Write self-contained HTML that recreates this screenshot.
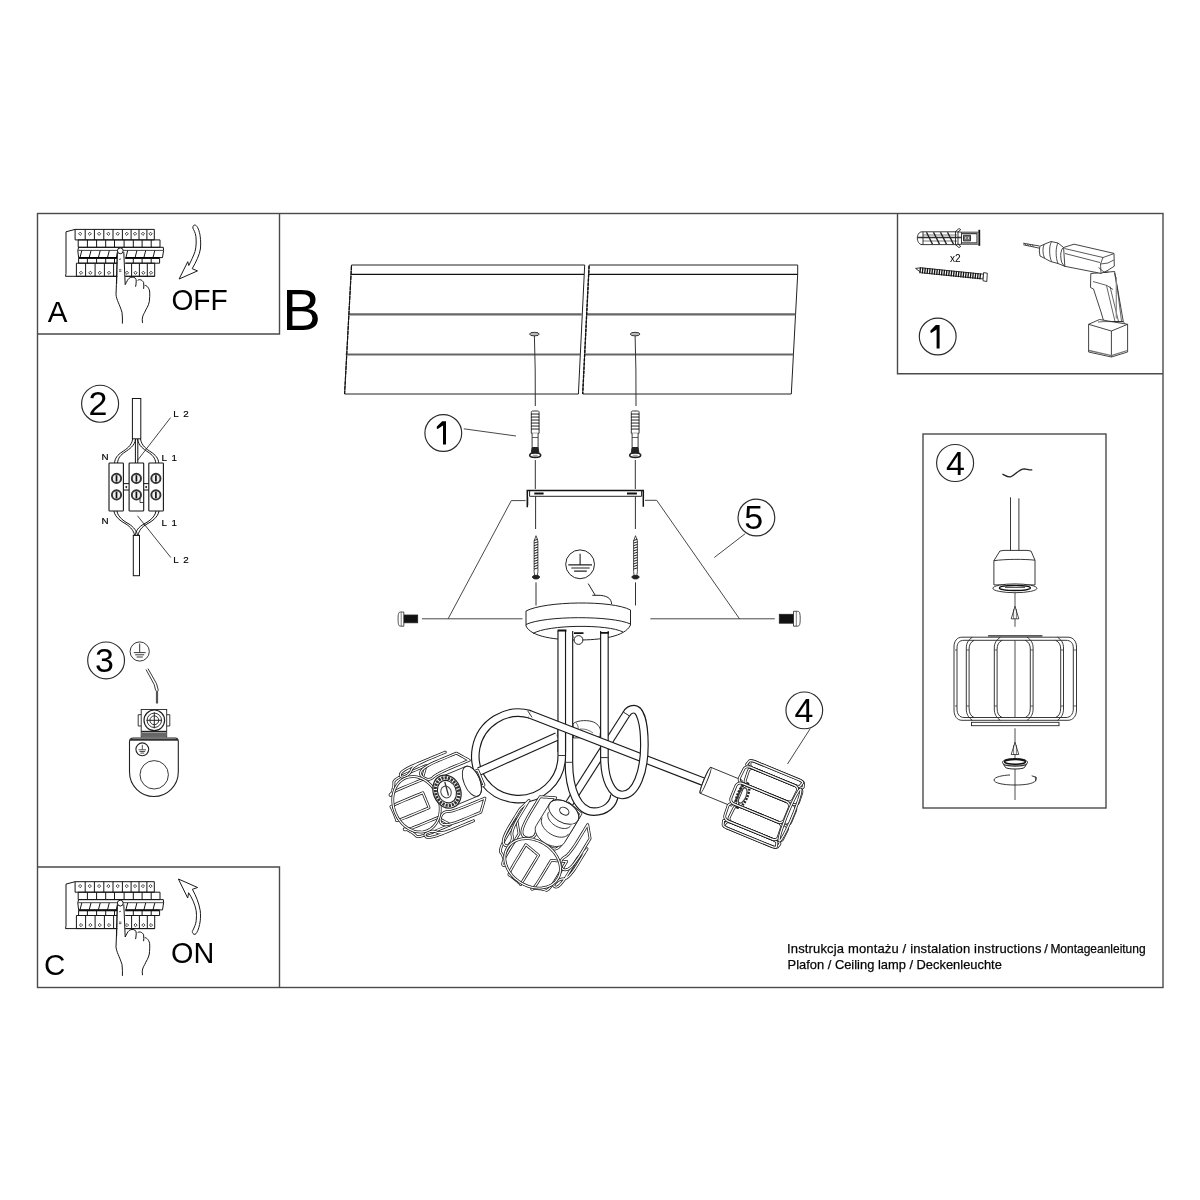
<!DOCTYPE html>
<html><head><meta charset="utf-8">
<style>
html,body{margin:0;padding:0;background:#fff;}
body{width:1200px;height:1200px;overflow:hidden;}
svg{display:block;}
text{font-family:"Liberation Sans",sans-serif;fill:#000;} svg{will-change:transform;}
</style></head><body>
<svg width="1200" height="1200" viewBox="0 0 1200 1200">
<rect width="1200" height="1200" fill="#fff"/>
<g fill="none" stroke="#4a4a4a" stroke-width="1.4">
<rect x="37.5" y="213.5" width="1125.5" height="774"/>
<path d="M279.5 213.5V334H37.5"/>
<path d="M37.5 867H279.5V987.5"/>
<path d="M897.5 213.5V373.7H1163"/>
<rect x="923" y="434" width="183" height="374"/>
</g>
<g id="panelA"><g fill="none" stroke="#151515" stroke-width="1">
<path d="M75.1 229.4L66 231.8V273.5L65.5 276.3H154.7"/>
<path d="M75.1 229.4H154.3V239.9H75.1Z"/>
<path d="M85.2 229.4V239.9"/>
<path d="M94.4 229.4V239.9"/>
<path d="M103.8 229.4V239.9"/>
<path d="M113 229.4V239.9"/>
<path d="M122.4 229.4V239.9"/>
<path d="M131.1 229.4V239.9"/>
<path d="M139 229.4V239.9"/>
<path d="M146.9 229.4V239.9"/>
<path d="M80.15 232.2l1.6 1.6l-1.6 1.6l-1.6-1.6z" stroke-width="0.8"/>
<path d="M89.8 232.2l1.6 1.6l-1.6 1.6l-1.6-1.6z" stroke-width="0.8"/>
<path d="M99.1 232.2l1.6 1.6l-1.6 1.6l-1.6-1.6z" stroke-width="0.8"/>
<path d="M108.4 232.2l1.6 1.6l-1.6 1.6l-1.6-1.6z" stroke-width="0.8"/>
<path d="M117.7 232.2l1.6 1.6l-1.6 1.6l-1.6-1.6z" stroke-width="0.8"/>
<path d="M126.75 232.2l1.6 1.6l-1.6 1.6l-1.6-1.6z" stroke-width="0.8"/>
<path d="M135.05 232.2l1.6 1.6l-1.6 1.6l-1.6-1.6z" stroke-width="0.8"/>
<path d="M142.95 232.2l1.6 1.6l-1.6 1.6l-1.6-1.6z" stroke-width="0.8"/>
<path d="M150.6 232.2l1.6 1.6l-1.6 1.6l-1.6-1.6z" stroke-width="0.8"/>
<path d="M78.2 239.9H160V247.3H78.2Z"/>
<path d="M87.4 239.9V247.3"/>
<path d="M96.6 239.9V247.3"/>
<path d="M105.7 239.9V247.3"/>
<path d="M114.5 239.9V247.3"/>
<path d="M124.1 239.9V247.3"/>
<path d="M133.3 239.9V247.3"/>
<path d="M142.1 239.9V247.3"/>
<path d="M151.2 239.9V247.3"/>
<path d="M78.6 247.3H163.3L163.6 250.5L162.5 257.6H78.6L77.8 250.5Z"/>
<path d="M78.2 250.4H163.5" stroke-width="0.8"/>
<path d="M81.8 250.6L80 257.5"/>
<path d="M91 250.6L89.2 257.5"/>
<path d="M100.2 250.6L98.4 257.5"/>
<path d="M109.3 250.6L107.5 257.5"/>
<path d="M118.1 250.6L116.3 257.5"/>
<path d="M127.7 250.6L125.9 257.5"/>
<path d="M136.9 250.6L135.1 257.5"/>
<path d="M145.7 250.6L143.9 257.5"/>
<path d="M154.8 250.6L153 257.5"/>
<path d="M78.6 257.9H159.6" stroke-width="1.6" stroke="#000"/>
<path d="M78.6 258.5H159.6V263.2H78.6Z"/>
<path d="M87.4 258.5V263.2"/>
<path d="M96.6 258.5V263.2"/>
<path d="M105.7 258.5V263.2"/>
<path d="M114.5 258.5V263.2"/>
<path d="M124.1 258.5V263.2"/>
<path d="M133.3 258.5V263.2"/>
<path d="M142.1 258.5V263.2"/>
<path d="M151.2 258.5V263.2"/>
<path d="M76.4 263.2H154.7V276.3H76.4Z"/>
<path d="M85.6 263.2V276.3"/>
<path d="M95.1 263.2V276.3"/>
<path d="M104.4 263.2V276.3"/>
<path d="M113.6 263.2V276.3"/>
<path d="M122.4 263.2V276.3"/>
<path d="M131.6 263.2V276.3"/>
<path d="M139.4 263.2V276.3"/>
<path d="M147.3 263.2V276.3"/>
<path d="M81 271.2l1.6 1.6l-1.6 1.6l-1.6-1.6z" stroke-width="0.8"/>
<path d="M90.35 271.2l1.6 1.6l-1.6 1.6l-1.6-1.6z" stroke-width="0.8"/>
<path d="M99.75 271.2l1.6 1.6l-1.6 1.6l-1.6-1.6z" stroke-width="0.8"/>
<path d="M109 271.2l1.6 1.6l-1.6 1.6l-1.6-1.6z" stroke-width="0.8"/>
<path d="M118 271.2l1.6 1.6l-1.6 1.6l-1.6-1.6z" stroke-width="0.8"/>
<path d="M127 271.2l1.6 1.6l-1.6 1.6l-1.6-1.6z" stroke-width="0.8"/>
<path d="M135.5 271.2l1.6 1.6l-1.6 1.6l-1.6-1.6z" stroke-width="0.8"/>
<path d="M143.35 271.2l1.6 1.6l-1.6 1.6l-1.6-1.6z" stroke-width="0.8"/>
<path d="M151 271.2l1.6 1.6l-1.6 1.6l-1.6-1.6z" stroke-width="0.8"/>
</g>
<g fill="#fff" stroke="#151515" stroke-width="1">
<path d="M117.4 252.1L116.4 284.7L116 294.6C116.5 300 119.5 304 122 312.3C122.6 316 122.4 320 122.4 323.6" fill="none"/>
<path d="M117.4 252.1V284.7H125.2V252.1Z" stroke="none"/>
<path d="M117.4 252.1L116.6 284" fill="none"/>
<path d="M123.8 252.1L125.2 284.7C126.5 282 128 279 129.1 278.3C130.5 277 133.5 276.5 135.5 278.3C136.5 279.5 136.4 282 135.6 286.8" fill="none"/>
<path d="M137.6 280.4C139 279.2 142 279.3 143.6 282.5C144 285 143.8 287 143.6 288.9" fill="none"/>
<path d="M144.7 285.4C146 285.3 148.5 286.5 149.6 291C150 295 149.6 298 149.3 301.7C148.5 306 146 309 144.7 312.3C143 315 141.6 318 142.5 322.9" fill="none"/>
<circle cx="120.3" cy="250.8" r="2.9" fill="#fff"/>
<path d="M119 259.5l2 -0.6M119 269.8h2.4M119 271.3h2.4" fill="none" stroke-width="0.7"/>
</g></g>
<path d="M192.9 228.1C192.5 225.5 194.5 224.6 195.5 225.2C197.5 226 199.5 231 200.2 236.3C200.8 241 200.8 245 200.4 249C199.5 255 196 262 192.2 268.7L197.5 270.9L179.1 279L187.75 261.7L188.8 265.5C191 261 193.5 256 195 251.5C196.3 247 196.4 241 195.9 236.3C195.3 232 193.5 230 192.9 228.1Z" fill="#fff" stroke="#1a1a1a" stroke-width="1"/>
<g transform="translate(0 652.3)"><g fill="none" stroke="#151515" stroke-width="1">
<path d="M75.1 229.4L66 231.8V273.5L65.5 276.3H154.7"/>
<path d="M75.1 229.4H154.3V239.9H75.1Z"/>
<path d="M85.2 229.4V239.9"/>
<path d="M94.4 229.4V239.9"/>
<path d="M103.8 229.4V239.9"/>
<path d="M113 229.4V239.9"/>
<path d="M122.4 229.4V239.9"/>
<path d="M131.1 229.4V239.9"/>
<path d="M139 229.4V239.9"/>
<path d="M146.9 229.4V239.9"/>
<path d="M80.15 232.2l1.6 1.6l-1.6 1.6l-1.6-1.6z" stroke-width="0.8"/>
<path d="M89.8 232.2l1.6 1.6l-1.6 1.6l-1.6-1.6z" stroke-width="0.8"/>
<path d="M99.1 232.2l1.6 1.6l-1.6 1.6l-1.6-1.6z" stroke-width="0.8"/>
<path d="M108.4 232.2l1.6 1.6l-1.6 1.6l-1.6-1.6z" stroke-width="0.8"/>
<path d="M117.7 232.2l1.6 1.6l-1.6 1.6l-1.6-1.6z" stroke-width="0.8"/>
<path d="M126.75 232.2l1.6 1.6l-1.6 1.6l-1.6-1.6z" stroke-width="0.8"/>
<path d="M135.05 232.2l1.6 1.6l-1.6 1.6l-1.6-1.6z" stroke-width="0.8"/>
<path d="M142.95 232.2l1.6 1.6l-1.6 1.6l-1.6-1.6z" stroke-width="0.8"/>
<path d="M150.6 232.2l1.6 1.6l-1.6 1.6l-1.6-1.6z" stroke-width="0.8"/>
<path d="M78.2 239.9H160V247.3H78.2Z"/>
<path d="M87.4 239.9V247.3"/>
<path d="M96.6 239.9V247.3"/>
<path d="M105.7 239.9V247.3"/>
<path d="M114.5 239.9V247.3"/>
<path d="M124.1 239.9V247.3"/>
<path d="M133.3 239.9V247.3"/>
<path d="M142.1 239.9V247.3"/>
<path d="M151.2 239.9V247.3"/>
<path d="M78.6 247.3H163.3L163.6 250.5L162.5 257.6H78.6L77.8 250.5Z"/>
<path d="M78.2 250.4H163.5" stroke-width="0.8"/>
<path d="M81.8 250.6L80 257.5"/>
<path d="M91 250.6L89.2 257.5"/>
<path d="M100.2 250.6L98.4 257.5"/>
<path d="M109.3 250.6L107.5 257.5"/>
<path d="M118.1 250.6L116.3 257.5"/>
<path d="M127.7 250.6L125.9 257.5"/>
<path d="M136.9 250.6L135.1 257.5"/>
<path d="M145.7 250.6L143.9 257.5"/>
<path d="M154.8 250.6L153 257.5"/>
<path d="M78.6 257.9H159.6" stroke-width="1.6" stroke="#000"/>
<path d="M78.6 258.5H159.6V263.2H78.6Z"/>
<path d="M87.4 258.5V263.2"/>
<path d="M96.6 258.5V263.2"/>
<path d="M105.7 258.5V263.2"/>
<path d="M114.5 258.5V263.2"/>
<path d="M124.1 258.5V263.2"/>
<path d="M133.3 258.5V263.2"/>
<path d="M142.1 258.5V263.2"/>
<path d="M151.2 258.5V263.2"/>
<path d="M76.4 263.2H154.7V276.3H76.4Z"/>
<path d="M85.6 263.2V276.3"/>
<path d="M95.1 263.2V276.3"/>
<path d="M104.4 263.2V276.3"/>
<path d="M113.6 263.2V276.3"/>
<path d="M122.4 263.2V276.3"/>
<path d="M131.6 263.2V276.3"/>
<path d="M139.4 263.2V276.3"/>
<path d="M147.3 263.2V276.3"/>
<path d="M81 271.2l1.6 1.6l-1.6 1.6l-1.6-1.6z" stroke-width="0.8"/>
<path d="M90.35 271.2l1.6 1.6l-1.6 1.6l-1.6-1.6z" stroke-width="0.8"/>
<path d="M99.75 271.2l1.6 1.6l-1.6 1.6l-1.6-1.6z" stroke-width="0.8"/>
<path d="M109 271.2l1.6 1.6l-1.6 1.6l-1.6-1.6z" stroke-width="0.8"/>
<path d="M118 271.2l1.6 1.6l-1.6 1.6l-1.6-1.6z" stroke-width="0.8"/>
<path d="M127 271.2l1.6 1.6l-1.6 1.6l-1.6-1.6z" stroke-width="0.8"/>
<path d="M135.5 271.2l1.6 1.6l-1.6 1.6l-1.6-1.6z" stroke-width="0.8"/>
<path d="M143.35 271.2l1.6 1.6l-1.6 1.6l-1.6-1.6z" stroke-width="0.8"/>
<path d="M151 271.2l1.6 1.6l-1.6 1.6l-1.6-1.6z" stroke-width="0.8"/>
</g>
<g fill="#fff" stroke="#151515" stroke-width="1">
<path d="M117.4 252.1L116.4 284.7L116 294.6C116.5 300 119.5 304 122 312.3C122.6 316 122.4 320 122.4 323.6" fill="none"/>
<path d="M117.4 252.1V284.7H125.2V252.1Z" stroke="none"/>
<path d="M117.4 252.1L116.6 284" fill="none"/>
<path d="M123.8 252.1L125.2 284.7C126.5 282 128 279 129.1 278.3C130.5 277 133.5 276.5 135.5 278.3C136.5 279.5 136.4 282 135.6 286.8" fill="none"/>
<path d="M137.6 280.4C139 279.2 142 279.3 143.6 282.5C144 285 143.8 287 143.6 288.9" fill="none"/>
<path d="M144.7 285.4C146 285.3 148.5 286.5 149.6 291C150 295 149.6 298 149.3 301.7C148.5 306 146 309 144.7 312.3C143 315 141.6 318 142.5 322.9" fill="none"/>
<circle cx="120.3" cy="250.8" r="2.9" fill="#fff"/>
<path d="M119 259.5l2 -0.6M119 269.8h2.4M119 271.3h2.4" fill="none" stroke-width="0.7"/>
</g></g>
<path d="M178.4 879L197.6 887.5L192.4 889.3C196 896 199 903 200.25 910.8C200.6 914 200.6 918 200.25 920.8C199.5 926 198.3 930 196.8 932.5C196 934.5 194 935 193 933.5C192 932 192.2 931.5 192.7 930.7C194.5 927 195.8 924 196.2 920.8C196.6 917 196.6 914 196.2 910.8C195 904 192 898 188.6 892.75L187.7 898Z" fill="#fff" stroke="#1a1a1a" stroke-width="1"/>
<text x="47.8" y="321.8" font-size="29.5">A</text>
<text transform="translate(171.4 309.7) scale(0.94 1)" font-size="30">OFF</text>
<text x="44" y="975.2" font-size="29.5">C</text>
<text transform="translate(171 962.6) scale(0.977 1)" font-size="29.5">ON</text>
<text x="282.3" y="330.4" font-size="58">B</text>
<g fill="none" stroke="#2a2a2a" stroke-width="1.15">
<circle cx="100.1" cy="403.7" r="18.5"/>
<circle cx="106.1" cy="660.4" r="18.4"/>
<circle cx="937.7" cy="336.5" r="18.4"/>
<circle cx="955.1" cy="463" r="18.5"/>
<circle cx="443.3" cy="433" r="18.4"/>
<circle cx="756.4" cy="517.5" r="18.4"/>
<circle cx="804.3" cy="710.35" r="18.35"/>
</g>
<g font-size="34">
<text x="88.6" y="414.8">2</text>
<text x="94.9" y="672.3">3</text>

<text x="946" y="474.9">4</text>

<text x="744.2" y="529.3">5</text>
<text x="794.5" y="722.4">4</text>
</g>
<g font-size="13" fill="#111" stroke="#111" stroke-width="0.25">
<text x="787" y="953" textLength="254.5" lengthAdjust="spacing">Instrukcja montażu / instalation instructions</text>
<text x="1044.2" y="953">/</text>
<text x="1050.4" y="953" textLength="95.2" lengthAdjust="spacingAndGlyphs">Montageanleitung</text>
<text x="787.6" y="969" font-size="12.9">Plafon / Ceiling lamp / Deckenleuchte</text>
</g>
<path d="M939.6 325V348.5H936.6V329.4L931.2 332.9L930.3 332.2L930.5 330.4L935.8 325Z" fill="#000"/>
<path d="M446 421.2V444.5H443V425.6L437.6 429.1L436.7 428.4L436.9 426.6L442.2 421.2Z" fill="#000"/>
<g fill="none" stroke="#151515" stroke-width="1">
<rect x="132.4" y="398.5" width="8.4" height="40.3"/>
<rect x="133.3" y="535.4" width="6.2" height="40.3"/>
<path d="M132.7 439C131.5 446 126.5 449 122 452C117.5 455 115 458 114.5 463"/>
<path d="M137.5 439C138.7 446 143.5 449 148 452C152.5 455 155.3 458 155.7 463"/>
<path d="M135.4 439V463"/>
<path d="M135.7 439C134.5 446 129.5 449 125 452C120.5 455 118 458 117.5 463"/>
<path d="M140.5 439C141.7 446 146.5 449 151 452C155.5 455 158.3 458 158.7 463"/>
<path d="M137.8 439V463"/>
<path d="M113.9 511C115 517 120.5 521 126 524C130.5 527 134 531 134.5 535.4"/>
<path d="M156 511C155 517 149.5 521 144 524C138.5 527 135.7 531 135.1 535.4"/>
<path d="M116.9 511C118 517 123.5 521 129 524C133.5 527 137 531 137.5 535.4"/>
<path d="M159 511C158 517 152.5 521 147 524C141.5 527 138.7 531 138.1 535.4"/>
<rect x="109" y="463" width="14.4" height="48" rx="0.8" fill="#fff" stroke-width="1.1"/>
<rect x="129.1" y="463" width="14.6" height="48" rx="0.8" fill="#fff" stroke-width="1.1"/>
<rect x="148.8" y="463" width="14.6" height="48" rx="0.8" fill="#fff" stroke-width="1.1"/>
<path d="M123.4 483.6H129.1M123.4 490H129.1M143.7 483.6H148.8M143.7 490H148.8"/>
<circle cx="126.3" cy="487" r="0.6" fill="#222"/><circle cx="146.2" cy="487" r="0.6" fill="#222"/>
<circle cx="116.5" cy="478.4" r="4.6" stroke-width="1.9" stroke="#333" fill="#eee"/>
<path d="M116.5 475.2V481.6" stroke-width="1.7" stroke="#111"/>
<circle cx="116.5" cy="494.9" r="4.6" stroke-width="1.9" stroke="#333" fill="#eee"/>
<path d="M116.5 491.7V498.1" stroke-width="1.7" stroke="#111"/>
<circle cx="136.4" cy="478.4" r="4.6" stroke-width="1.9" stroke="#333" fill="#eee"/>
<path d="M136.4 475.2V481.6" stroke-width="1.7" stroke="#111"/>
<circle cx="136.4" cy="494.9" r="4.6" stroke-width="1.9" stroke="#333" fill="#eee"/>
<path d="M136.4 491.7V498.1" stroke-width="1.7" stroke="#111"/>
<circle cx="155.9" cy="478.4" r="4.6" stroke-width="1.9" stroke="#333" fill="#eee"/>
<path d="M155.9 475.2V481.6" stroke-width="1.7" stroke="#111"/>
<circle cx="155.9" cy="494.9" r="4.6" stroke-width="1.9" stroke="#333" fill="#eee"/>
<path d="M155.9 491.7V498.1" stroke-width="1.7" stroke="#111"/>
<path d="M140 497.5V502.5H143.5" stroke-width="0.8"/>
<path d="M170.6 417.6L137.4 460.5M137.5 515.8L170.8 557.5" stroke-width="0.8"/>
</g>
<g font-size="9.8" fill="#111" stroke="#111" stroke-width="0.2" letter-spacing="1.1">
<text x="101.6" y="460">N</text><text x="101.6" y="524">N</text>
<text x="161.5" y="461">L 1</text><text x="161.5" y="525.7">L 1</text>
<text x="173.2" y="416.6">L 2</text><text x="173.2" y="562.5">L 2</text>
</g>
<g fill="none" stroke="#222" stroke-width="0.9">
<circle cx="139.7" cy="651.5" r="9.6"/>
<path d="M139.7 643.5V652.5M133.8 652.6H145.6M135.2 654.8H144.2M136.6 657H142.8"/>
<path d="M146 669.5L154.2 684.5L155.7 690.6M148 668.6L156.6 683.8L158.4 690.6"/>
<path d="M157 690.6V703.5" stroke-width="2.2" stroke="#555"/>
<path d="M129.5 742C129.5 739.5 131 738 133.5 738H175C177 738 178.3 739.5 178.3 741.5V772C178.3 785.5 167.3 796.5 153.9 796.5C140.5 796.5 129.5 785.5 129.5 772Z" stroke-width="1.1"/>
<path d="M129.8 739.7H178" stroke-width="2" stroke="#333"/>
<circle cx="154.2" cy="774.8" r="14.2"/>
<circle cx="142.3" cy="749.3" r="6.4" stroke-width="1.1"/>
<path d="M142.3 744.8V749.6M138.6 749.8H146M139.5 751.5H145.1M140.4 753.1H144.2" stroke-width="0.8"/>
<rect x="141.2" y="709.5" width="25.5" height="27.3" fill="#fff"/>
<path d="M141.2 714.7H138.2V726H141.2M166.7 714.7H169.8V726H166.7"/>
<path d="M141.3 731.5H166.6" stroke-width="1.4"/><rect x="141.3" y="732.5" width="25.3" height="4" fill="#666" stroke="none"/>
<circle cx="154.3" cy="720.3" r="10.3" stroke-width="1.2"/>
<circle cx="154.3" cy="720.3" r="7.2"/>
<circle cx="154.3" cy="720.3" r="4.4"/>
<path d="M154.3 712.3V728.3M146.5 720.3H162.1" stroke-width="1"/>
</g>
<g fill="none" stroke="#222" stroke-width="0.9">
<path d="M979.3 229.8V245.8" stroke-width="1.8" stroke="#111"/>
<path d="M978.5 232.2H961.5V244.2H978.5"/>
<path d="M961.5 233.6H977V242.8H961.5" stroke-width="1.2" stroke="#444"/>
<path d="M963.5 235.3H970.5V240.9H963.5Z" fill="#888" stroke-width="0.9"/>
<path d="M965 236.6h1.6v2.8h-1.6zM967.6 236.6h1.6v2.8h-1.6z" fill="#fff" stroke-width="0.5"/>
<path d="M961.5 232.2L957.5 231.8H922C919 231.8 917.3 235 917.3 238C917.3 241 919 244.6 922 244.6H957.5L961.5 244.2"/>
<path d="M917.5 237.5H961.5" stroke-width="1.3" stroke="#333"/>
<path d="M923 235H957M923 241H957" stroke-width="0.8" stroke="#555"/>
<path d="M923 232V244.5M955.5 232V244.5M958 232V244.5" stroke-width="0.9"/>
<path d="M926.5 232.3L932.5 244.3" stroke-width="1.4" stroke="#222"/>
<path d="M933.5 232.3L939.5 244.3" stroke-width="1.4" stroke="#222"/>
<path d="M940.5 232.3L946.5 244.3" stroke-width="1.4" stroke="#222"/>
<path d="M947.5 232.3L953.5 244.3" stroke-width="1.4" stroke="#222"/>
<path d="M955 232L959 228.5L960.8 229.6L957.5 232.4M955 244.3L959 247.6L960.8 246.4L957.5 243.7" stroke-width="0.9"/>
</g><text x="950" y="262.4" font-size="10" fill="#222">x2</text><g fill="none" stroke="#222" stroke-width="0.9">
<path d="M915.6 268.4L921 267.8L983.6 274.2L983 278.9L921.5 272.8Z" fill="#fff"/>
<path d="M983.6 272.6L987.3 273.2L986.8 281.5L983 280.8Z" fill="#fff"/>
<path d="M920.5 267.4L919.9 273.2" stroke-width="1.3" stroke="#111"/>
<path d="M922.9 267.64L922.3 273.44" stroke-width="1.3" stroke="#111"/>
<path d="M925.3 267.89L924.7 273.69" stroke-width="1.3" stroke="#111"/>
<path d="M927.7 268.13L927.1 273.93" stroke-width="1.3" stroke="#111"/>
<path d="M930.1 268.38L929.5 274.18" stroke-width="1.3" stroke="#111"/>
<path d="M932.5 268.62L931.9 274.42" stroke-width="1.3" stroke="#111"/>
<path d="M934.9 268.87L934.3 274.67" stroke-width="1.3" stroke="#111"/>
<path d="M937.3 269.11L936.7 274.91" stroke-width="1.3" stroke="#111"/>
<path d="M939.7 269.36L939.1 275.16" stroke-width="1.3" stroke="#111"/>
<path d="M942.1 269.6L941.5 275.4" stroke-width="1.3" stroke="#111"/>
<path d="M944.5 269.85L943.9 275.65" stroke-width="1.3" stroke="#111"/>
<path d="M946.9 270.09L946.3 275.89" stroke-width="1.3" stroke="#111"/>
<path d="M949.3 270.34L948.7 276.14" stroke-width="1.3" stroke="#111"/>
<path d="M951.7 270.58L951.1 276.38" stroke-width="1.3" stroke="#111"/>
<path d="M954.1 270.83L953.5 276.63" stroke-width="1.3" stroke="#111"/>
<path d="M956.5 271.07L955.9 276.87" stroke-width="1.3" stroke="#111"/>
<path d="M958.9 271.32L958.3 277.12" stroke-width="1.3" stroke="#111"/>
<path d="M961.3 271.56L960.7 277.36" stroke-width="1.3" stroke="#111"/>
<path d="M963.7 271.81L963.1 277.61" stroke-width="1.3" stroke="#111"/>
<path d="M966.1 272.05L965.5 277.85" stroke-width="1.3" stroke="#111"/>
<path d="M968.5 272.3L967.9 278.1" stroke-width="1.3" stroke="#111"/>
<path d="M970.9 272.54L970.3 278.34" stroke-width="1.3" stroke="#111"/>
<path d="M973.3 272.79L972.7 278.59" stroke-width="1.3" stroke="#111"/>
<path d="M975.7 273.03L975.1 278.83" stroke-width="1.3" stroke="#111"/>
<path d="M978.1 273.28L977.5 279.08" stroke-width="1.3" stroke="#111"/>
<path d="M980.5 273.52L979.9 279.32" stroke-width="1.3" stroke="#111"/>
</g>
<g fill="#fff" stroke="#222" stroke-width="0.85" stroke-linejoin="round">
<path d="M1023.1 243.2L1039.5 246M1023.3 244.8L1039.5 248.2" fill="none"/>
<path d="M1024.5 243.6l1.8 1.5M1027 244l1.8 1.5M1029.5 244.5l1.8 1.5M1032 244.9l1.8 1.5" fill="none" stroke-width="0.7"/>
<path d="M1090.8 273.5L1090.5 287.5L1093.5 289L1101 312L1103.8 321.6L1123.3 321.6L1114.6 271.5Z"/>
<path d="M1093 281.5L1107 285.5L1113 289.5M1106.5 285.5L1115 321.5M1110 286.5L1118.5 321.5M1114.6 273L1117.6 290.5L1121.5 321" fill="none" stroke-width="0.7"/>
<path d="M1116.3 277V318.5" stroke="#888" stroke-width="1.2" fill="none"/>
<path d="M1063.6 247.5L1074 244.2L1114 253.4L1114.3 266.2L1107 270.8L1101 273.4L1064.8 266.3Z"/>
<path d="M1064.5 248.5L1103 257.5L1113.5 253.8M1065 253.5L1100 262.5M1103 257.5L1100.5 264L1101 273.4M1100.5 264L1108 263L1113.8 260M1098.5 267.5L1104.5 272.5L1108.5 272" fill="none" stroke-width="0.75"/>
<path d="M1063.6 247.5C1061.5 248.5 1060.5 253 1060.8 257C1061 261 1062 264.5 1064.8 266.3L1058 263.5L1050.5 261.5L1045 258.5L1040 256L1039.3 251L1039.8 246.3L1046 243.5L1051 241.5L1058 243Z"/>
<path d="M1044.2 244.3C1042.5 247 1042.5 254 1044.5 258M1051.5 241.8C1049 245 1049 256 1051.5 261.5M1058 243C1055.5 247 1055.5 258 1058 263.5" fill="none" stroke-width="0.8"/>
<path d="M1088.6 324.3L1099.5 319.5L1127.6 324.3V352L1111.4 357L1088.6 352Z"/>
<path d="M1088.6 324.3L1111.4 331L1127.6 324.3M1111.4 331V357" fill="none"/>
<path d="M1089 350.5L1111.4 355.6L1127.3 350.5" fill="none" stroke="#777" stroke-width="1.3"/>
<path d="M1098 322L1103.8 321.6L1123.3 321.6L1125 323.8" fill="none" stroke-width="0.7"/>
</g>
<g fill="none" stroke="#222" stroke-width="0.9">
<path d="M1002.4 474.2C1005 475 1007 477.5 1010.5 476.8C1015 476 1018 469 1024.5 468.8C1027 468.8 1028.5 470.2 1032.3 469.8" stroke-width="1.3"/>
<path d="M1010.5 497.3V551M1018.9 498.3V551"/>
<path d="M999.9 551L1004 550.4H1027L1031 551L1035 560.2V584.9H993.9V560.7Z" fill="#fff"/>
<path d="M993.9 560.7C1005 559 1025 559 1035 560.2"/>
<ellipse cx="1014.9" cy="588.3" rx="22" ry="4.4" fill="#fff"/>
<ellipse cx="1014.9" cy="588" rx="15.5" ry="2.5" stroke-width="1.3" stroke="#111"/>
<path d="M1005 587.5H1025" stroke-width="0.8" stroke="#333"/>
<path d="M1015 592.7V626.8M1015 728.3V800" stroke-width="0.8"/>
<path d="M1015 606.3L1011.2 618.8H1018.8Z M1015 742.3L1011.2 754.5H1018.8Z" fill="#fff" stroke-width="0.8"/>
<path d="M1013.6 609V618.6M1016.4 609V618.6M1013.6 745V754.3M1016.4 745V754.3" stroke-width="0.6"/>
<path d="M988.1 635.9H1042.4" stroke-width="1.3"/>
<rect x="971.5" y="722.3" width="87.5" height="3.4" fill="#fff"/>
<path d="M962 637.2H1068M964 640.3H1066M962 720.3H1068M964 717.5H1066"/>
<path d="M962 637.2C957 637.2 954 641 954 647V710C954 716 957 720.3 962 720.3"/>
<path d="M964 640.3C959.5 640.3 957 643 957 648V709C957 714 959.5 717.5 964 717.5"/>
<path d="M1068 637.2C1073 637.2 1076.5 641 1076.5 647V710C1076.5 716 1073 720.3 1068 720.3"/>
<path d="M1066 640.3C1070.5 640.3 1073.3 643 1073.3 648V709C1073.3 714 1070.5 717.5 1066 717.5"/>
<path d="M972.3 637.2C968.3 640 966.3 643 966.3 648V709C966.3 714 968.3 717.5 972.3 720.3"/>
<path d="M974.1 640.3C970.6 642 969.1 645 969.1 649V708C969.1 713 970.6 716 974.1 717.5"/>
<path d="M1000.3 637.2C996.3 640 994.3 643 994.3 648V709C994.3 714 996.3 717.5 1000.3 720.3"/>
<path d="M1002.1 640.3C998.6 642 997.1 645 997.1 649V708C997.1 713 998.6 716 1002.1 717.5"/>
<path d="M1057.5 637.2C1061.5 640 1063.5 643 1063.5 648V709C1063.5 714 1061.5 717.5 1057.5 720.3"/>
<path d="M1055.7 640.3C1059.2 642 1060.7 645 1060.7 649V708C1060.7 713 1059.2 716 1055.7 717.5"/>
<path d="M1027.1 637.2C1031.1 640 1033.1 643 1033.1 648V709C1033.1 714 1031.1 717.5 1027.1 720.3"/>
<path d="M1025.3 640.3C1028.8 642 1030.3 645 1030.3 649V708C1030.3 713 1028.8 716 1025.3 717.5"/>
<path d="M1015 640.5V717" stroke-width="0.8"/>
<path d="M955 650H957M955 706H957M966.5 650H969M966.5 706H969M994.5 650H997M994.5 706H997M1030.5 650H1033M1030.5 706H1033M1061 650H1063.5M1061 706H1063.5M1073.5 650H1076.3M1073.5 706H1076.3" stroke-width="0.7"/>
<path d="M1002.5 762.5C1002.5 760 1008 758.5 1015 758.5C1022 758.5 1027.5 760 1027.5 762.5L1024.5 767.5C1022 769.5 1008 769.5 1005.5 767.5Z" fill="#fff" stroke-width="1"/>
<ellipse cx="1015" cy="761.8" rx="10.5" ry="2.4" stroke-width="1.6" stroke="#111"/>
<path d="M1004 764.5C1008 766.5 1022 766.5 1026 764.5" stroke-width="1.3" stroke="#333"/>
<path d="M1035 777.5C1036 776 1036.5 778 1035.8 780.5C1033 784 1025 785 1015 785C1003 785 994 783 994 780C994 777 1003 775.2 1010 775" stroke-width="0.9"/>
<path d="M1031.7 775.8L1036 777.2L1035.5 781.3" stroke-width="0.9"/>
</g>
<g fill="none" stroke="#222" stroke-width="1">
<path d="M351.5 265H584.7L578.4 394H344.6Z"/>
<path d="M351 274.4H584" stroke-width="1.3" stroke="#111"/>
<path d="M348.4 314.4H581.8M345.7 354.5H580.2" stroke-width="2.2" stroke="#666"/>
<path d="M589.1 265H797.7V274.3L791.3 394H582.7Z"/>
<path d="M588.4 274.3H797.7" stroke-width="1.3" stroke="#111"/>
<path d="M586.3 314.4H795.6M584.4 354.5H793.5" stroke-width="2.2" stroke="#666"/>
<path d="M589.1 266L582.7 394" stroke-width="1.4" stroke="#111" stroke-dasharray="3 1.2"/>
<path d="M351.5 266L344.6 394" stroke-width="1.2" stroke="#111" stroke-dasharray="4 1"/>
<ellipse cx="534.4" cy="334.1" rx="4.8" ry="1.8" fill="#bbb" stroke="#222" stroke-width="0.9"/>
<path d="M534.4 335.8L535.2 370L535.3 406" stroke-width="1" stroke="#333"/>
<ellipse cx="635.1" cy="334.1" rx="4.8" ry="1.8" fill="#bbb" stroke="#222" stroke-width="0.9"/>
<path d="M635.1 335.8L635.9 370L636 406" stroke-width="1" stroke="#333"/>
</g>
<g fill="#fff" stroke="#222" stroke-width="0.9">
<path d="M531.3 412.5C531.3 411 532.2 411 533.2 411H537.2C538.2 411 539.1 411 539.1 412.5V433.3H531.3Z"/>
<path d="M531.3 414.2H539.1" stroke-width="1.6" stroke="#222"/>
<path d="M532 414.2H538.4" stroke-width="0.7" stroke="#fff"/>
<path d="M531.3 417.2H539.1" stroke-width="1.6" stroke="#222"/>
<path d="M532 417.2H538.4" stroke-width="0.7" stroke="#fff"/>
<path d="M531.3 420.2H539.1" stroke-width="1.6" stroke="#222"/>
<path d="M532 420.2H538.4" stroke-width="0.7" stroke="#fff"/>
<path d="M531.3 423.2H539.1" stroke-width="1.6" stroke="#222"/>
<path d="M532 423.2H538.4" stroke-width="0.7" stroke="#fff"/>
<path d="M531.3 426.2H539.1" stroke-width="1.6" stroke="#222"/>
<path d="M532 426.2H538.4" stroke-width="0.7" stroke="#fff"/>
<path d="M531.3 429.2H539.1" stroke-width="1.6" stroke="#222"/>
<path d="M532 429.2H538.4" stroke-width="0.7" stroke="#fff"/>
<path d="M532.1 433.3V447.5H538.1V433.3"/>
<path d="M532.1 437.5H538.1" stroke-width="0.7"/>
<path d="M532 447.5H538.2L539 453.5H531.2Z" fill="#222"/>
<ellipse cx="535.2" cy="455.2" rx="5.5" ry="2.2" fill="#fff" stroke-width="1.6"/>
<path d="M532.7 455.3H537.7" stroke-width="0.8" stroke="#777"/>
</g>
<g fill="#fff" stroke="#222" stroke-width="0.9">
<path d="M631.3 412.5C631.3 411 632.2 411 633.2 411H637.2C638.2 411 639.1 411 639.1 412.5V433.3H631.3Z"/>
<path d="M631.3 414.2H639.1" stroke-width="1.6" stroke="#222"/>
<path d="M632 414.2H638.4" stroke-width="0.7" stroke="#fff"/>
<path d="M631.3 417.2H639.1" stroke-width="1.6" stroke="#222"/>
<path d="M632 417.2H638.4" stroke-width="0.7" stroke="#fff"/>
<path d="M631.3 420.2H639.1" stroke-width="1.6" stroke="#222"/>
<path d="M632 420.2H638.4" stroke-width="0.7" stroke="#fff"/>
<path d="M631.3 423.2H639.1" stroke-width="1.6" stroke="#222"/>
<path d="M632 423.2H638.4" stroke-width="0.7" stroke="#fff"/>
<path d="M631.3 426.2H639.1" stroke-width="1.6" stroke="#222"/>
<path d="M632 426.2H638.4" stroke-width="0.7" stroke="#fff"/>
<path d="M631.3 429.2H639.1" stroke-width="1.6" stroke="#222"/>
<path d="M632 429.2H638.4" stroke-width="0.7" stroke="#fff"/>
<path d="M632.1 433.3V447.5H638.1V433.3"/>
<path d="M632.1 437.5H638.1" stroke-width="0.7"/>
<path d="M632 447.5H638.2L639 453.5H631.2Z" fill="#222"/>
<ellipse cx="635.2" cy="455.2" rx="5.5" ry="2.2" fill="#fff" stroke-width="1.6"/>
<path d="M632.7 455.3H637.7" stroke-width="0.8" stroke="#777"/>
</g>
<g fill="none" stroke="#222" stroke-width="1">
<path d="M535.3 460V489M535.6 496.5V529M536 582.4V605.5M635.3 460V489M635.4 496.5V529M635.5 582.4V605.5" stroke="#333"/>
<path d="M527.3 507.3V490.4H643.3V506.8" stroke-width="1.5" stroke="#111"/>
<path d="M529.6 490.8V496.3H641.6V490.8" stroke-width="1"/>
<path d="M534.3 493.4H543.6M627 493.4H636.9" stroke-width="2" stroke="#111"/>
<path d="M527.9 497V505" stroke-width="0.6"/>
<path d="M525.6 500.6H511.3L448.1 618.8M421.9 618.8H522.5M645 500.3H656.7L739.5 618.8M650.3 618.8H774.8" stroke-width="0.9" stroke="#333"/>
<path d="M745.2 533.7L714.3 557.5M463.8 428.8L516 436" stroke-width="0.9" stroke="#333"/>
</g>
<g fill="#fff" stroke="#222" stroke-width="0.8">
<path d="M536 535.7L537.9 541V571.5L537.3 576H534.7L534.1 571.5V541Z"/>
<path d="M534 540.5L538 539.2" stroke-width="1" stroke="#222"/>
<path d="M534 543.1L538 541.8" stroke-width="1" stroke="#222"/>
<path d="M534 545.7L538 544.4" stroke-width="1" stroke="#222"/>
<path d="M534 548.3L538 547" stroke-width="1" stroke="#222"/>
<path d="M534 550.9L538 549.6" stroke-width="1" stroke="#222"/>
<path d="M534 553.5L538 552.2" stroke-width="1" stroke="#222"/>
<path d="M534 556.1L538 554.8" stroke-width="1" stroke="#222"/>
<path d="M534 558.7L538 557.4" stroke-width="1" stroke="#222"/>
<path d="M534 561.3L538 560" stroke-width="1" stroke="#222"/>
<path d="M534 563.9L538 562.6" stroke-width="1" stroke="#222"/>
<path d="M534 566.5L538 565.2" stroke-width="1" stroke="#222"/>
<path d="M534 569.1L538 567.8" stroke-width="1" stroke="#222"/>
<path d="M532.2 577C533 575.5 534.5 575.3 536 575.3C537.5 575.3 539 575.5 539.8 577C539 578.7 537.5 579 536 579C534.5 579 533 578.7 532.2 577Z" fill="#222"/>
</g>
<g fill="#fff" stroke="#222" stroke-width="0.8">
<path d="M635.5 535.7L637.4 541V571.5L636.8 576H634.2L633.6 571.5V541Z"/>
<path d="M633.5 540.5L637.5 539.2" stroke-width="1" stroke="#222"/>
<path d="M633.5 543.1L637.5 541.8" stroke-width="1" stroke="#222"/>
<path d="M633.5 545.7L637.5 544.4" stroke-width="1" stroke="#222"/>
<path d="M633.5 548.3L637.5 547" stroke-width="1" stroke="#222"/>
<path d="M633.5 550.9L637.5 549.6" stroke-width="1" stroke="#222"/>
<path d="M633.5 553.5L637.5 552.2" stroke-width="1" stroke="#222"/>
<path d="M633.5 556.1L637.5 554.8" stroke-width="1" stroke="#222"/>
<path d="M633.5 558.7L637.5 557.4" stroke-width="1" stroke="#222"/>
<path d="M633.5 561.3L637.5 560" stroke-width="1" stroke="#222"/>
<path d="M633.5 563.9L637.5 562.6" stroke-width="1" stroke="#222"/>
<path d="M633.5 566.5L637.5 565.2" stroke-width="1" stroke="#222"/>
<path d="M633.5 569.1L637.5 567.8" stroke-width="1" stroke="#222"/>
<path d="M631.7 577C632.5 575.5 634 575.3 635.5 575.3C637 575.3 638.5 575.5 639.3 577C638.5 578.7 637 579 635.5 579C634 579 632.5 578.7 631.7 577Z" fill="#222"/>
</g>
<g fill="none" stroke="#222" stroke-width="1">
<circle cx="580.1" cy="564.3" r="14.4"/>
<path d="M580.1 553.8V564.7M568.3 564.9H592M571.3 568H589.7M574.1 571.1H586.8" stroke-width="1.1"/>
<path d="M588.2 583.6L595.2 595.2M592.3 595.3H598C602 595.3 605 595.8 608 597.5C610.5 599 611.5 601.5 611.6 604"/>
</g>
<g stroke="#222" stroke-width="0.8">
<rect x="403.7" y="615" width="14" height="7.8" fill="#111"/>
<path d="M403.8 612H400.5C398.5 612 398.1 614 398.1 619C398.1 624 398.5 626.2 400.5 626.2H403.8Z" fill="#fff"/>
<path d="M401.2 612.3V626" fill="none" stroke-width="0.6"/>
<rect x="779.3" y="614.3" width="14.2" height="8.9" fill="#111"/>
<path d="M793.5 611.3H797.5C799.7 611.3 800.2 613.5 800.2 618.8C800.2 624 799.7 626.2 797.5 626.2H793.5Z" fill="#fff"/>
<path d="M796.3 611.5V626" fill="none" stroke-width="0.6"/>
</g>
<path d="M810.3 728.5L787.5 764" stroke="#333" stroke-width="0.9" fill="none"/>
<g fill="#fff" stroke="#222" stroke-width="1">
<path d="M526 611C545 601 612 600 630.5 610V625C625 637 600 640 578 640C556 640 531 637 526 626Z"/>
<path d="M526 624.5C545 615.5 612 615.5 630.5 624" fill="none"/>
<path d="M533 633.5C548 624.5 608 624 623 632" fill="none"/>
</g>
<path d="M573 724C575 721 585 719.5 592 721.5C597 723 600.5 727 600.5 731L600 737L573.5 738Z" fill="#fff" stroke="#222" stroke-width="0.9"/>
<path d="M576 722.5C578 725 578.5 727.5 578 729.5M580 729C585 728.5 590 730.5 593 733" fill="none" stroke="#555" stroke-width="0.8"/>
<path d="M627 713L563.8 812" fill="none" stroke="#1a1a1a" stroke-width="8.7" stroke-linecap="butt" stroke-linejoin="round"/><path d="M627 713L563.8 812" fill="none" stroke="#fff" stroke-width="6.4" stroke-linecap="butt" stroke-linejoin="round"/>
<path d="M568.9 631V762C568.9 790 578 811.6 594 811.6C606 811.6 613.5 804 614.5 795" fill="none" stroke="#1a1a1a" stroke-width="8.7" stroke-linecap="butt" stroke-linejoin="round"/><path d="M568.9 631V762C568.9 790 578 811.6 594 811.6C606 811.6 613.5 804 614.5 795" fill="none" stroke="#fff" stroke-width="6.4" stroke-linecap="butt" stroke-linejoin="round"/>
<path d="M561.75 631V756A43.2 43.2 0 1 1 530.2 714.3" fill="none" stroke="#1a1a1a" stroke-width="8.7" stroke-linecap="butt" stroke-linejoin="round"/><path d="M561.75 631V756A43.2 43.2 0 1 1 530.2 714.3" fill="none" stroke="#fff" stroke-width="6.4" stroke-linecap="butt" stroke-linejoin="round"/>
<path d="M557 736.5L479 771.5" fill="none" stroke="#1a1a1a" stroke-width="8.7" stroke-linecap="butt" stroke-linejoin="round"/><path d="M557 736.5L479 771.5" fill="none" stroke="#fff" stroke-width="6.4" stroke-linecap="butt" stroke-linejoin="round"/>
<path d="M561.75 725V752" fill="none" stroke="#1a1a1a" stroke-width="8.7" stroke-linecap="butt" stroke-linejoin="round"/><path d="M561.75 725V752" fill="none" stroke="#fff" stroke-width="6.4" stroke-linecap="butt" stroke-linejoin="round"/>
<path d="M604.4 631V758" fill="none" stroke="#1a1a1a" stroke-width="8.7" stroke-linecap="butt" stroke-linejoin="round"/><path d="M604.4 631V758" fill="none" stroke="#fff" stroke-width="6.4" stroke-linecap="butt" stroke-linejoin="round"/>
<path d="M529.5 714.2L703 781.6" fill="none" stroke="#1a1a1a" stroke-width="8.7" stroke-linecap="butt" stroke-linejoin="round"/><path d="M529.5 714.2L703 781.6" fill="none" stroke="#fff" stroke-width="6.4" stroke-linecap="butt" stroke-linejoin="round"/>
<path d="M604.4 757.6C604.4 780 612 795 622 795C636 795 644.4 772 644.4 745C644.4 722 640 709.2 634 709.2C630 709.2 628 711 626.5 714" fill="none" stroke="#1a1a1a" stroke-width="8.7" stroke-linecap="butt" stroke-linejoin="round"/><path d="M604.4 757.6C604.4 780 612 795 622 795C636 795 644.4 772 644.4 745C644.4 722 640 709.2 634 709.2C630 709.2 628 711 626.5 714" fill="none" stroke="#fff" stroke-width="6.4" stroke-linecap="butt" stroke-linejoin="round"/>
<g stroke="#222" stroke-width="0.9" fill="none">
<path d="M558.3 755.5H565.2M565.6 762.3H572.3M601 757.6H607.8M527.8 711L532 717.3M623.6 712.2L629.5 716"/>
<path d="M557.5 630.5H566.5M600 632.8H609M574 633.2H583.5" stroke-width="1.8" stroke="#111"/>
</g>
<circle cx="578.5" cy="640" r="4.4" fill="#fff" stroke="#222" stroke-width="1"/>
<path d="M572.6 637H574.2" stroke="#666" stroke-width="1.5"/>
<path d="M391.04 806.89 L390.89 806.75 L391.27 806.41 L392.17 805.88 L393.6 805.16 L395.56 804.24 L398.04 803.13 L401.05 801.83 L404.58 800.33 L408.65 798.64 L412.2 797.16 L415.25 795.89 L417.79 794.84 L419.82 793.99 L421.34 793.36 L422.36 792.93 L422.86 792.72 L422.86 792.72 L422.96 792.96 L423.16 793.43 L423.45 794.13 L423.84 795.07 L424.32 796.25 L424.91 797.66 L425.59 799.31 L426.37 801.19 L427.05 802.84 L427.63 804.25 L428.12 805.42 L428.51 806.36 L428.8 807.07 L428.99 807.54 L429.09 807.77 L429.09 807.77 L428.58 807.99 L427.57 808.41 L426.04 809.04 L424.01 809.89 L421.47 810.94 L418.43 812.21 L414.87 813.69 L410.81 815.38 L407.25 816.83 L404.21 818.05 L401.67 819.03 L399.65 819.77 L398.13 820.28 L397.12 820.55 L396.61 820.58 L396.62 820.38 L396.55 820.01 L396.39 819.48 L396.16 818.77 L395.84 817.9 L395.45 816.87 L394.98 815.67 L394.42 814.3 L393.79 812.76 L393.21 811.4 L392.7 810.21 L392.25 809.2 L391.85 808.36 L391.52 807.7 L391.25 807.21Z" fill="none" stroke="#1a1a1a" stroke-width="2.8" stroke-linecap="round" stroke-linejoin="round"/><path d="M391.04 806.89 L390.89 806.75 L391.27 806.41 L392.17 805.88 L393.6 805.16 L395.56 804.24 L398.04 803.13 L401.05 801.83 L404.58 800.33 L408.65 798.64 L412.2 797.16 L415.25 795.89 L417.79 794.84 L419.82 793.99 L421.34 793.36 L422.36 792.93 L422.86 792.72 L422.86 792.72 L422.96 792.96 L423.16 793.43 L423.45 794.13 L423.84 795.07 L424.32 796.25 L424.91 797.66 L425.59 799.31 L426.37 801.19 L427.05 802.84 L427.63 804.25 L428.12 805.42 L428.51 806.36 L428.8 807.07 L428.99 807.54 L429.09 807.77 L429.09 807.77 L428.58 807.99 L427.57 808.41 L426.04 809.04 L424.01 809.89 L421.47 810.94 L418.43 812.21 L414.87 813.69 L410.81 815.38 L407.25 816.83 L404.21 818.05 L401.67 819.03 L399.65 819.77 L398.13 820.28 L397.12 820.55 L396.61 820.58 L396.62 820.38 L396.55 820.01 L396.39 819.48 L396.16 818.77 L395.84 817.9 L395.45 816.87 L394.98 815.67 L394.42 814.3 L393.79 812.76 L393.21 811.4 L392.7 810.21 L392.25 809.2 L391.85 808.36 L391.52 807.7 L391.25 807.21Z" fill="none" stroke="#fff" stroke-width="1.3" stroke-linecap="round" stroke-linejoin="round"/>
<path d="M404.24 829.21 L404.43 829.64 L405.1 829.8 L406.26 829.7 L407.9 829.34 L410.03 828.71 L412.64 827.81 L415.73 826.65 L419.31 825.23 L423.37 823.54 L426.92 822.06 L429.97 820.79 L432.51 819.73 L434.54 818.89 L436.06 818.26 L437.08 817.83 L437.59 817.62 L437.59 817.62 L437.79 817.73 L438.19 817.96 L438.8 818.29 L439.61 818.74 L440.62 819.29 L441.83 819.96 L443.24 820.74 L444.86 821.63 L446.27 822.41 L447.48 823.08 L448.49 823.64 L449.3 824.09 L449.9 824.42 L450.31 824.64 L450.51 824.75 L450.51 824.75 L450 824.97 L448.98 825.39 L447.46 826.02 L445.43 826.87 L442.89 827.92 L439.84 829.19 L436.29 830.67 L432.23 832.36 L428.61 833.76 L425.44 834.88 L422.72 835.72 L420.45 836.27 L418.62 836.53 L417.24 836.5 L416.31 836.2 L415.82 835.6 L415.23 834.99 L414.53 834.36 L413.74 833.72 L412.83 833.06 L411.83 832.38 L410.72 831.69 L409.5 830.98 L408.19 830.25 L407.06 829.67 L406.12 829.23 L405.36 828.93 L404.8 828.79 L404.42 828.78 L404.24 828.92Z" fill="none" stroke="#1a1a1a" stroke-width="2.8" stroke-linecap="round" stroke-linejoin="round"/><path d="M404.24 829.21 L404.43 829.64 L405.1 829.8 L406.26 829.7 L407.9 829.34 L410.03 828.71 L412.64 827.81 L415.73 826.65 L419.31 825.23 L423.37 823.54 L426.92 822.06 L429.97 820.79 L432.51 819.73 L434.54 818.89 L436.06 818.26 L437.08 817.83 L437.59 817.62 L437.59 817.62 L437.79 817.73 L438.19 817.96 L438.8 818.29 L439.61 818.74 L440.62 819.29 L441.83 819.96 L443.24 820.74 L444.86 821.63 L446.27 822.41 L447.48 823.08 L448.49 823.64 L449.3 824.09 L449.9 824.42 L450.31 824.64 L450.51 824.75 L450.51 824.75 L450 824.97 L448.98 825.39 L447.46 826.02 L445.43 826.87 L442.89 827.92 L439.84 829.19 L436.29 830.67 L432.23 832.36 L428.61 833.76 L425.44 834.88 L422.72 835.72 L420.45 836.27 L418.62 836.53 L417.24 836.5 L416.31 836.2 L415.82 835.6 L415.23 834.99 L414.53 834.36 L413.74 833.72 L412.83 833.06 L411.83 832.38 L410.72 831.69 L409.5 830.98 L408.19 830.25 L407.06 829.67 L406.12 829.23 L405.36 828.93 L404.8 828.79 L404.42 828.78 L404.24 828.92Z" fill="none" stroke="#fff" stroke-width="1.3" stroke-linecap="round" stroke-linejoin="round"/>
<path d="M393.89 782.58 L393.82 781.81 L394.26 780.93 L395.21 779.93 L396.69 778.82 L398.68 777.59 L401.19 776.24 L404.22 774.79 L407.77 773.21 L411.83 771.52 L415.38 770.04 L418.43 768.77 L420.97 767.72 L423 766.87 L424.52 766.24 L425.54 765.82 L426.05 765.6 L426.05 765.6 L425.98 765.83 L425.85 766.27 L425.66 766.93 L425.4 767.82 L425.08 768.92 L424.7 770.25 L424.25 771.8 L423.73 773.57 L423.28 775.11 L422.89 776.44 L422.57 777.55 L422.32 778.43 L422.12 779.09 L421.99 779.54 L421.93 779.76 L421.93 779.76 L421.42 779.97 L420.41 780.39 L418.88 781.03 L416.85 781.87 L414.31 782.93 L411.27 784.19 L407.71 785.67 L403.65 787.36 L400.12 788.9 L397.11 790.28 L394.64 791.5 L392.69 792.56 L391.28 793.47 L390.39 794.23 L390.03 794.83 L390.2 795.27 L390.4 795.47 L390.64 795.44 L390.9 795.18 L391.2 794.68 L391.52 793.94 L391.88 792.97 L392.27 791.76 L392.69 790.32 L393.05 788.96 L393.34 787.69 L393.58 786.5 L393.75 785.39 L393.86 784.37 L393.91 783.43Z" fill="none" stroke="#1a1a1a" stroke-width="2.8" stroke-linecap="round" stroke-linejoin="round"/><path d="M393.89 782.58 L393.82 781.81 L394.26 780.93 L395.21 779.93 L396.69 778.82 L398.68 777.59 L401.19 776.24 L404.22 774.79 L407.77 773.21 L411.83 771.52 L415.38 770.04 L418.43 768.77 L420.97 767.72 L423 766.87 L424.52 766.24 L425.54 765.82 L426.05 765.6 L426.05 765.6 L425.98 765.83 L425.85 766.27 L425.66 766.93 L425.4 767.82 L425.08 768.92 L424.7 770.25 L424.25 771.8 L423.73 773.57 L423.28 775.11 L422.89 776.44 L422.57 777.55 L422.32 778.43 L422.12 779.09 L421.99 779.54 L421.93 779.76 L421.93 779.76 L421.42 779.97 L420.41 780.39 L418.88 781.03 L416.85 781.87 L414.31 782.93 L411.27 784.19 L407.71 785.67 L403.65 787.36 L400.12 788.9 L397.11 790.28 L394.64 791.5 L392.69 792.56 L391.28 793.47 L390.39 794.23 L390.03 794.83 L390.2 795.27 L390.4 795.47 L390.64 795.44 L390.9 795.18 L391.2 794.68 L391.52 793.94 L391.88 792.97 L392.27 791.76 L392.69 790.32 L393.05 788.96 L393.34 787.69 L393.58 786.5 L393.75 785.39 L393.86 784.37 L393.91 783.43Z" fill="none" stroke="#fff" stroke-width="1.3" stroke-linecap="round" stroke-linejoin="round"/>
<path d="M425.75 836.46 L426.5 837.08 L427.65 837.41 L429.22 837.45 L431.21 837.2 L433.61 836.66 L436.43 835.84 L439.66 834.72 L443.31 833.32 L447.37 831.63 L450.93 830.15 L453.97 828.89 L456.51 827.83 L458.54 826.98 L460.07 826.35 L461.08 825.93 L461.59 825.72 L461.59 825.72 L461.78 825.64 L462.16 825.48 L462.72 825.25 L463.47 824.94 L464.42 824.55 L465.54 824.09 L466.86 823.54 L468.37 822.92 L469.69 822.38 L470.82 821.92 L471.76 821.53 L472.51 821.22 L473.07 820.98 L473.45 820.83 L473.64 820.75 L473.64 820.75 L473.13 820.96 L472.12 821.39 L470.59 822.02 L468.56 822.86 L466.02 823.92 L462.98 825.19 L459.42 826.67 L455.36 828.36 L451.68 829.77 L448.37 830.92 L445.45 831.78 L442.91 832.38 L440.75 832.7 L438.97 832.74 L437.57 832.52 L436.55 832.01 L435.51 831.64 L434.44 831.39 L433.34 831.26 L432.21 831.27 L431.06 831.39 L429.89 831.65 L428.69 832.03 L427.46 832.53 L426.48 833.05 L425.74 833.59 L425.25 834.14 L425.01 834.7 L425.01 835.27 L425.26 835.86Z" fill="none" stroke="#1a1a1a" stroke-width="2.8" stroke-linecap="round" stroke-linejoin="round"/><path d="M425.75 836.46 L426.5 837.08 L427.65 837.41 L429.22 837.45 L431.21 837.2 L433.61 836.66 L436.43 835.84 L439.66 834.72 L443.31 833.32 L447.37 831.63 L450.93 830.15 L453.97 828.89 L456.51 827.83 L458.54 826.98 L460.07 826.35 L461.08 825.93 L461.59 825.72 L461.59 825.72 L461.78 825.64 L462.16 825.48 L462.72 825.25 L463.47 824.94 L464.42 824.55 L465.54 824.09 L466.86 823.54 L468.37 822.92 L469.69 822.38 L470.82 821.92 L471.76 821.53 L472.51 821.22 L473.07 820.98 L473.45 820.83 L473.64 820.75 L473.64 820.75 L473.13 820.96 L472.12 821.39 L470.59 822.02 L468.56 822.86 L466.02 823.92 L462.98 825.19 L459.42 826.67 L455.36 828.36 L451.68 829.77 L448.37 830.92 L445.45 831.78 L442.91 832.38 L440.75 832.7 L438.97 832.74 L437.57 832.52 L436.55 832.01 L435.51 831.64 L434.44 831.39 L433.34 831.26 L432.21 831.27 L431.06 831.39 L429.89 831.65 L428.69 832.03 L427.46 832.53 L426.48 833.05 L425.74 833.59 L425.25 834.14 L425.01 834.7 L425.01 835.27 L425.26 835.86Z" fill="none" stroke="#fff" stroke-width="1.3" stroke-linecap="round" stroke-linejoin="round"/>
<path d="M411.12 770.52 L411.49 769.44 L412.32 768.29 L413.61 767.06 L415.36 765.75 L417.57 764.37 L420.25 762.91 L423.39 761.37 L426.99 759.76 L431.05 758.07 L434.61 756.59 L437.65 755.32 L440.19 754.26 L442.22 753.42 L443.75 752.79 L444.76 752.36 L445.27 752.15 L445.27 752.15 L445.08 752.23 L444.71 752.38 L444.14 752.62 L443.39 752.93 L442.45 753.32 L441.32 753.78 L440 754.32 L438.49 754.94 L437.18 755.49 L436.05 755.95 L435.11 756.34 L434.35 756.65 L433.79 756.88 L433.41 757.04 L433.22 757.12 L433.22 757.12 L432.72 757.33 L431.7 757.75 L430.18 758.38 L428.14 759.23 L425.61 760.29 L422.56 761.55 L419 763.03 L414.94 764.72 L411.38 766.32 L408.31 767.83 L405.74 769.25 L403.66 770.57 L402.08 771.81 L401 772.96 L400.41 774.01 L400.32 774.97 L400.4 775.75 L400.64 776.35 L401.05 776.76 L401.62 776.99 L402.35 777.03 L403.25 776.89 L404.31 776.57 L405.54 776.07 L406.66 775.49 L407.68 774.84 L408.58 774.12 L409.38 773.33 L410.07 772.46 L410.65 771.53Z" fill="none" stroke="#1a1a1a" stroke-width="2.8" stroke-linecap="round" stroke-linejoin="round"/><path d="M411.12 770.52 L411.49 769.44 L412.32 768.29 L413.61 767.06 L415.36 765.75 L417.57 764.37 L420.25 762.91 L423.39 761.37 L426.99 759.76 L431.05 758.07 L434.61 756.59 L437.65 755.32 L440.19 754.26 L442.22 753.42 L443.75 752.79 L444.76 752.36 L445.27 752.15 L445.27 752.15 L445.08 752.23 L444.71 752.38 L444.14 752.62 L443.39 752.93 L442.45 753.32 L441.32 753.78 L440 754.32 L438.49 754.94 L437.18 755.49 L436.05 755.95 L435.11 756.34 L434.35 756.65 L433.79 756.88 L433.41 757.04 L433.22 757.12 L433.22 757.12 L432.72 757.33 L431.7 757.75 L430.18 758.38 L428.14 759.23 L425.61 760.29 L422.56 761.55 L419 763.03 L414.94 764.72 L411.38 766.32 L408.31 767.83 L405.74 769.25 L403.66 770.57 L402.08 771.81 L401 772.96 L400.41 774.01 L400.32 774.97 L400.4 775.75 L400.64 776.35 L401.05 776.76 L401.62 776.99 L402.35 777.03 L403.25 776.89 L404.31 776.57 L405.54 776.07 L406.66 775.49 L407.68 774.84 L408.58 774.12 L409.38 773.33 L410.07 772.46 L410.65 771.53Z" fill="none" stroke="#fff" stroke-width="1.3" stroke-linecap="round" stroke-linejoin="round"/>
<path d="M442.99 824.41 L444.17 824.71 L445.71 824.77 L447.62 824.58 L449.88 824.14 L452.51 823.44 L455.49 822.5 L458.83 821.31 L462.53 819.87 L466.6 818.18 L470.15 816.7 L473.2 815.43 L475.74 814.38 L477.77 813.53 L479.29 812.9 L480.31 812.48 L480.81 812.26 L480.81 812.26 L480.88 812.04 L481.01 811.6 L481.2 810.94 L481.46 810.05 L481.78 808.95 L482.17 807.62 L482.62 806.07 L483.13 804.3 L483.58 802.75 L483.97 801.43 L484.29 800.32 L484.55 799.44 L484.74 798.77 L484.87 798.33 L484.93 798.11 L484.93 798.11 L484.42 798.32 L483.41 798.74 L481.89 799.38 L479.85 800.22 L477.32 801.28 L474.27 802.55 L470.71 804.03 L466.65 805.72 L462.94 807.2 L459.57 808.47 L456.55 809.53 L453.88 810.39 L451.56 811.03 L449.58 811.47 L447.96 811.7 L446.68 811.72 L445.5 811.92 L444.44 812.29 L443.48 812.84 L442.63 813.58 L441.89 814.49 L441.26 815.57 L440.73 816.84 L440.31 818.28 L440.09 819.58 L440.07 820.74 L440.25 821.76 L440.64 822.63 L441.22 823.37 L442 823.96Z" fill="none" stroke="#1a1a1a" stroke-width="2.8" stroke-linecap="round" stroke-linejoin="round"/><path d="M442.99 824.41 L444.17 824.71 L445.71 824.77 L447.62 824.58 L449.88 824.14 L452.51 823.44 L455.49 822.5 L458.83 821.31 L462.53 819.87 L466.6 818.18 L470.15 816.7 L473.2 815.43 L475.74 814.38 L477.77 813.53 L479.29 812.9 L480.31 812.48 L480.81 812.26 L480.81 812.26 L480.88 812.04 L481.01 811.6 L481.2 810.94 L481.46 810.05 L481.78 808.95 L482.17 807.62 L482.62 806.07 L483.13 804.3 L483.58 802.75 L483.97 801.43 L484.29 800.32 L484.55 799.44 L484.74 798.77 L484.87 798.33 L484.93 798.11 L484.93 798.11 L484.42 798.32 L483.41 798.74 L481.89 799.38 L479.85 800.22 L477.32 801.28 L474.27 802.55 L470.71 804.03 L466.65 805.72 L462.94 807.2 L459.57 808.47 L456.55 809.53 L453.88 810.39 L451.56 811.03 L449.58 811.47 L447.96 811.7 L446.68 811.72 L445.5 811.92 L444.44 812.29 L443.48 812.84 L442.63 813.58 L441.89 814.49 L441.26 815.57 L440.73 816.84 L440.31 818.28 L440.09 819.58 L440.07 820.74 L440.25 821.76 L440.64 822.63 L441.22 823.37 L442 823.96Z" fill="none" stroke="#fff" stroke-width="1.3" stroke-linecap="round" stroke-linejoin="round"/>
<path d="M432.64 777.78 L433.56 776.89 L434.87 775.9 L436.58 774.81 L438.67 773.61 L441.16 772.32 L444.05 770.93 L447.32 769.44 L450.99 767.85 L455.06 766.16 L458.61 764.68 L461.66 763.42 L464.2 762.36 L466.23 761.51 L467.75 760.88 L468.77 760.46 L469.27 760.25 L469.27 760.25 L469.07 760.13 L468.67 759.91 L468.06 759.58 L467.25 759.13 L466.25 758.57 L465.03 757.91 L463.62 757.13 L462.01 756.23 L460.59 755.45 L459.38 754.79 L458.37 754.23 L457.57 753.78 L456.96 753.45 L456.56 753.23 L456.35 753.11 L456.35 753.11 L455.85 753.33 L454.83 753.75 L453.31 754.38 L451.28 755.23 L448.74 756.28 L445.69 757.55 L442.14 759.03 L438.07 760.72 L434.44 762.33 L431.24 763.86 L428.47 765.31 L426.12 766.69 L424.21 767.98 L422.73 769.19 L421.68 770.33 L421.06 771.38 L420.68 772.4 L420.54 773.37 L420.65 774.3 L421 775.2 L421.59 776.05 L422.42 776.86 L423.5 777.62 L424.81 778.35 L426.08 778.88 L427.3 779.2 L428.47 779.32 L429.58 779.24 L430.65 778.95 L431.67 778.47Z" fill="none" stroke="#1a1a1a" stroke-width="2.8" stroke-linecap="round" stroke-linejoin="round"/><path d="M432.64 777.78 L433.56 776.89 L434.87 775.9 L436.58 774.81 L438.67 773.61 L441.16 772.32 L444.05 770.93 L447.32 769.44 L450.99 767.85 L455.06 766.16 L458.61 764.68 L461.66 763.42 L464.2 762.36 L466.23 761.51 L467.75 760.88 L468.77 760.46 L469.27 760.25 L469.27 760.25 L469.07 760.13 L468.67 759.91 L468.06 759.58 L467.25 759.13 L466.25 758.57 L465.03 757.91 L463.62 757.13 L462.01 756.23 L460.59 755.45 L459.38 754.79 L458.37 754.23 L457.57 753.78 L456.96 753.45 L456.56 753.23 L456.35 753.11 L456.35 753.11 L455.85 753.33 L454.83 753.75 L453.31 754.38 L451.28 755.23 L448.74 756.28 L445.69 757.55 L442.14 759.03 L438.07 760.72 L434.44 762.33 L431.24 763.86 L428.47 765.31 L426.12 766.69 L424.21 767.98 L422.73 769.19 L421.68 770.33 L421.06 771.38 L420.68 772.4 L420.54 773.37 L420.65 774.3 L421 775.2 L421.59 776.05 L422.42 776.86 L423.5 777.62 L424.81 778.35 L426.08 778.88 L427.3 779.2 L428.47 779.32 L429.58 779.24 L430.65 778.95 L431.67 778.47Z" fill="none" stroke="#fff" stroke-width="1.3" stroke-linecap="round" stroke-linejoin="round"/>
<path d="M445.84 800.1 L447.1 799.78 L448.7 799.29 L450.66 798.63 L452.97 797.8 L455.63 796.79 L458.64 795.62 L462 794.27 L465.72 792.75 L469.78 791.06 L473.33 789.58 L476.38 788.31 L478.92 787.26 L480.95 786.41 L482.47 785.78 L483.49 785.36 L484 785.15 L484 785.15 L483.9 784.91 L483.7 784.44 L483.41 783.73 L483.02 782.79 L482.54 781.62 L481.95 780.21 L481.27 778.56 L480.5 776.68 L479.81 775.03 L479.23 773.62 L478.75 772.45 L478.36 771.51 L478.06 770.8 L477.87 770.33 L477.77 770.09 L477.77 770.09 L477.26 770.31 L476.25 770.73 L474.73 771.36 L472.69 772.21 L470.16 773.26 L467.11 774.53 L463.55 776.01 L459.49 777.7 L455.8 779.26 L452.47 780.7 L449.52 782 L446.93 783.18 L444.71 784.23 L442.86 785.15 L441.37 785.94 L440.26 786.61 L439.36 787.38 L438.69 788.26 L438.23 789.25 L437.99 790.35 L437.97 791.56 L438.16 792.88 L438.58 794.3 L439.21 795.84 L439.93 797.14 L440.72 798.21 L441.59 799.05 L442.53 799.66 L443.56 800.04 L444.66 800.18Z" fill="none" stroke="#1a1a1a" stroke-width="2.8" stroke-linecap="round" stroke-linejoin="round"/><path d="M445.84 800.1 L447.1 799.78 L448.7 799.29 L450.66 798.63 L452.97 797.8 L455.63 796.79 L458.64 795.62 L462 794.27 L465.72 792.75 L469.78 791.06 L473.33 789.58 L476.38 788.31 L478.92 787.26 L480.95 786.41 L482.47 785.78 L483.49 785.36 L484 785.15 L484 785.15 L483.9 784.91 L483.7 784.44 L483.41 783.73 L483.02 782.79 L482.54 781.62 L481.95 780.21 L481.27 778.56 L480.5 776.68 L479.81 775.03 L479.23 773.62 L478.75 772.45 L478.36 771.51 L478.06 770.8 L477.87 770.33 L477.77 770.09 L477.77 770.09 L477.26 770.31 L476.25 770.73 L474.73 771.36 L472.69 772.21 L470.16 773.26 L467.11 774.53 L463.55 776.01 L459.49 777.7 L455.8 779.26 L452.47 780.7 L449.52 782 L446.93 783.18 L444.71 784.23 L442.86 785.15 L441.37 785.94 L440.26 786.61 L439.36 787.38 L438.69 788.26 L438.23 789.25 L437.99 790.35 L437.97 791.56 L438.16 792.88 L438.58 794.3 L439.21 795.84 L439.93 797.14 L440.72 798.21 L441.59 799.05 L442.53 799.66 L443.56 800.04 L444.66 800.18Z" fill="none" stroke="#fff" stroke-width="1.3" stroke-linecap="round" stroke-linejoin="round"/>
<path d="M405.55 777.99 L403.54 778.97 L401.66 780.2 L399.91 781.66 L398.33 783.34 L396.92 785.22 L395.7 787.29 L394.68 789.52 L393.87 791.89 L393.28 794.38 L392.91 796.96 L392.77 799.62 L392.86 802.32 L393.18 805.04 L393.72 807.76 L394.48 810.44 L395.45 813.06 L396.62 815.6 L397.99 818.02 L399.53 820.32 L401.24 822.46 L403.1 824.43 L405.08 826.2 L407.17 827.76 L409.36 829.1 L411.61 830.2 L413.91 831.04 L416.23 831.63 L418.56 831.96 L420.87 832.02 L423.13 831.82 L425.33 831.35 L427.45 830.61 L429.46 829.63 L431.34 828.4 L433.09 826.94 L434.67 825.26 L436.08 823.38 L437.3 821.31 L438.32 819.08 L439.13 816.71 L439.72 814.22 L440.09 811.64 L440.23 808.98 L440.14 806.28 L439.82 803.56 L439.28 800.84 L438.52 798.16 L437.55 795.54 L436.38 793 L435.01 790.58 L433.47 788.28 L431.76 786.14 L429.9 784.17 L427.92 782.4 L425.83 780.84 L423.64 779.5 L421.39 778.4 L419.09 777.56 L416.77 776.97 L414.44 776.64 L412.13 776.58 L409.87 776.78 L407.67 777.25Z" fill="none" stroke="#1a1a1a" stroke-width="2.8" stroke-linecap="round" stroke-linejoin="round"/><path d="M405.55 777.99 L403.54 778.97 L401.66 780.2 L399.91 781.66 L398.33 783.34 L396.92 785.22 L395.7 787.29 L394.68 789.52 L393.87 791.89 L393.28 794.38 L392.91 796.96 L392.77 799.62 L392.86 802.32 L393.18 805.04 L393.72 807.76 L394.48 810.44 L395.45 813.06 L396.62 815.6 L397.99 818.02 L399.53 820.32 L401.24 822.46 L403.1 824.43 L405.08 826.2 L407.17 827.76 L409.36 829.1 L411.61 830.2 L413.91 831.04 L416.23 831.63 L418.56 831.96 L420.87 832.02 L423.13 831.82 L425.33 831.35 L427.45 830.61 L429.46 829.63 L431.34 828.4 L433.09 826.94 L434.67 825.26 L436.08 823.38 L437.3 821.31 L438.32 819.08 L439.13 816.71 L439.72 814.22 L440.09 811.64 L440.23 808.98 L440.14 806.28 L439.82 803.56 L439.28 800.84 L438.52 798.16 L437.55 795.54 L436.38 793 L435.01 790.58 L433.47 788.28 L431.76 786.14 L429.9 784.17 L427.92 782.4 L425.83 780.84 L423.64 779.5 L421.39 778.4 L419.09 777.56 L416.77 776.97 L414.44 776.64 L412.13 776.58 L409.87 776.78 L407.67 777.25Z" fill="none" stroke="#fff" stroke-width="1.3" stroke-linecap="round" stroke-linejoin="round"/>
<path d="M442.67 776.08 L441.76 776.61 L440.97 777.38 L440.31 778.38 L439.8 779.6 L439.44 781.01 L439.25 782.58 L439.21 784.3 L439.34 786.13 L439.64 788.04 L440.09 790 L440.69 791.97 L441.43 793.93 L442.29 795.83 L443.27 797.65 L444.34 799.35 L445.49 800.9 L446.7 802.29 L447.94 803.47 L449.19 804.45 L450.44 805.18 L451.67 805.68 L452.84 805.92 L453.94 805.9 L454.96 805.63 L478.04 796.02 L478.95 795.5 L479.74 794.72 L480.4 793.72 L480.91 792.51 L481.27 791.1 L481.47 789.52 L481.5 787.81 L481.37 785.98 L481.07 784.07 L480.62 782.11 L480.02 780.13 L479.28 778.18 L478.42 776.28 L477.44 774.46 L476.37 772.76 L475.22 771.2 L474.01 769.82 L472.77 768.63 L471.52 767.66 L470.27 766.92 L469.04 766.43 L467.87 766.19 L466.77 766.2 L465.75 766.48Z" fill="#fff" stroke="#222" stroke-width="0.9"/><ellipse cx="471.9" cy="781.25" rx="16" ry="8" transform="rotate(-112.59 471.9 781.25)" fill="none" stroke="#222" stroke-width="0.9"/>
<ellipse cx="446.97" cy="791.62" rx="17" ry="13.6" transform="rotate(-112.59 446.97 791.62)" fill="#fff" stroke="#222" stroke-width="1.2"/>
<ellipse cx="446.97" cy="791.62" rx="14.2" ry="11.36" transform="rotate(-112.59 446.97 791.62)" fill="none" stroke="#333" stroke-width="3.2" stroke-dasharray="2.2 1"/>
<ellipse cx="446.97" cy="791.62" rx="11.5" ry="9.2" transform="rotate(-112.59 446.97 791.62)" fill="#fff" stroke="#222" stroke-width="1.1"/>
<ellipse cx="446.04" cy="792.01" rx="6" ry="5.1" transform="rotate(-112.59 446.04 792.01)" fill="#fff" stroke="#444" stroke-width="1"/>
<path d="M444.8 782L448.5 795.5" stroke="#333" stroke-width="1.3"/>
<path d="M509.38 875.1 L509 874.95 L508.96 874.35 L509.24 873.31 L509.86 871.82 L510.81 869.88 L512.08 867.5 L513.69 864.66 L515.62 861.38 L517.89 857.66 L519.88 854.4 L521.58 851.6 L522.99 849.27 L524.13 847.41 L524.98 846.01 L525.54 845.08 L525.83 844.61 L525.83 844.61 L526.02 844.78 L526.42 845.11 L527.02 845.61 L527.82 846.27 L528.81 847.1 L530 848.1 L531.4 849.26 L532.99 850.59 L534.38 851.76 L535.58 852.75 L536.57 853.58 L537.37 854.25 L537.97 854.75 L538.36 855.08 L538.56 855.24 L538.56 855.24 L538.28 855.71 L537.71 856.64 L536.86 858.04 L535.73 859.9 L534.31 862.23 L532.61 865.03 L530.63 868.29 L528.36 872.02 L526.38 875.26 L524.7 878.03 L523.3 880.31 L522.19 882.11 L521.37 883.43 L520.84 884.27 L520.6 884.62 L520.65 884.5 L520.53 884.26 L520.25 883.9 L519.81 883.43 L519.2 882.84 L518.43 882.13 L517.49 881.31 L516.39 880.37 L515.12 879.31 L513.97 878.37 L512.92 877.54 L511.99 876.82 L511.17 876.22 L510.46 875.73 L509.87 875.36Z" fill="none" stroke="#1a1a1a" stroke-width="2.8" stroke-linecap="round" stroke-linejoin="round"/><path d="M509.38 875.1 L509 874.95 L508.96 874.35 L509.24 873.31 L509.86 871.82 L510.81 869.88 L512.08 867.5 L513.69 864.66 L515.62 861.38 L517.89 857.66 L519.88 854.4 L521.58 851.6 L522.99 849.27 L524.13 847.41 L524.98 846.01 L525.54 845.08 L525.83 844.61 L525.83 844.61 L526.02 844.78 L526.42 845.11 L527.02 845.61 L527.82 846.27 L528.81 847.1 L530 848.1 L531.4 849.26 L532.99 850.59 L534.38 851.76 L535.58 852.75 L536.57 853.58 L537.37 854.25 L537.97 854.75 L538.36 855.08 L538.56 855.24 L538.56 855.24 L538.28 855.71 L537.71 856.64 L536.86 858.04 L535.73 859.9 L534.31 862.23 L532.61 865.03 L530.63 868.29 L528.36 872.02 L526.38 875.26 L524.7 878.03 L523.3 880.31 L522.19 882.11 L521.37 883.43 L520.84 884.27 L520.6 884.62 L520.65 884.5 L520.53 884.26 L520.25 883.9 L519.81 883.43 L519.2 882.84 L518.43 882.13 L517.49 881.31 L516.39 880.37 L515.12 879.31 L513.97 878.37 L512.92 877.54 L511.99 876.82 L511.17 876.22 L510.46 875.73 L509.87 875.36Z" fill="none" stroke="#fff" stroke-width="1.3" stroke-linecap="round" stroke-linejoin="round"/>
<path d="M531.77 889.09 L532.04 889.35 L532.56 889.11 L533.34 888.37 L534.36 887.13 L535.63 885.4 L537.15 883.17 L538.92 880.44 L540.93 877.21 L543.2 873.48 L545.18 870.22 L546.88 867.42 L548.3 865.09 L549.43 863.23 L550.28 861.83 L550.85 860.9 L551.13 860.44 L551.13 860.44 L551.38 860.45 L551.86 860.49 L552.59 860.53 L553.57 860.6 L554.79 860.68 L556.25 860.78 L557.95 860.9 L559.9 861.03 L561.6 861.15 L563.06 861.25 L564.28 861.33 L565.26 861.4 L565.99 861.45 L566.47 861.48 L566.72 861.5 L566.72 861.5 L566.43 861.96 L565.87 862.89 L565.02 864.29 L563.88 866.16 L562.47 868.49 L560.77 871.28 L558.78 874.54 L556.52 878.27 L554.45 881.49 L552.58 884.22 L550.91 886.44 L549.44 888.16 L548.17 889.38 L547.1 890.1 L546.23 890.32 L545.55 890.03 L544.77 889.77 L543.88 889.53 L542.88 889.31 L541.77 889.12 L540.55 888.94 L539.22 888.79 L537.78 888.66 L536.23 888.56 L534.91 888.5 L533.82 888.48 L532.95 888.52 L532.31 888.59 L531.9 888.71 L531.72 888.88Z" fill="none" stroke="#1a1a1a" stroke-width="2.8" stroke-linecap="round" stroke-linejoin="round"/><path d="M531.77 889.09 L532.04 889.35 L532.56 889.11 L533.34 888.37 L534.36 887.13 L535.63 885.4 L537.15 883.17 L538.92 880.44 L540.93 877.21 L543.2 873.48 L545.18 870.22 L546.88 867.42 L548.3 865.09 L549.43 863.23 L550.28 861.83 L550.85 860.9 L551.13 860.44 L551.13 860.44 L551.38 860.45 L551.86 860.49 L552.59 860.53 L553.57 860.6 L554.79 860.68 L556.25 860.78 L557.95 860.9 L559.9 861.03 L561.6 861.15 L563.06 861.25 L564.28 861.33 L565.26 861.4 L565.99 861.45 L566.47 861.48 L566.72 861.5 L566.72 861.5 L566.43 861.96 L565.87 862.89 L565.02 864.29 L563.88 866.16 L562.47 868.49 L560.77 871.28 L558.78 874.54 L556.52 878.27 L554.45 881.49 L552.58 884.22 L550.91 886.44 L549.44 888.16 L548.17 889.38 L547.1 890.1 L546.23 890.32 L545.55 890.03 L544.77 889.77 L543.88 889.53 L542.88 889.31 L541.77 889.12 L540.55 888.94 L539.22 888.79 L537.78 888.66 L536.23 888.56 L534.91 888.5 L533.82 888.48 L532.95 888.52 L532.31 888.59 L531.9 888.71 L531.72 888.88Z" fill="none" stroke="#fff" stroke-width="1.3" stroke-linecap="round" stroke-linejoin="round"/>
<path d="M501.27 853.07 L500.66 852.29 L500.41 851.13 L500.52 849.61 L500.99 847.72 L501.82 845.46 L503.01 842.84 L504.55 839.85 L506.46 836.49 L508.73 832.76 L510.71 829.5 L512.41 826.7 L513.83 824.37 L514.96 822.51 L515.81 821.11 L516.38 820.18 L516.66 819.72 L516.66 819.72 L516.7 819.93 L516.78 820.37 L516.89 821.03 L517.04 821.9 L517.23 822.99 L517.46 824.3 L517.72 825.83 L518.03 827.58 L518.29 829.1 L518.52 830.41 L518.71 831.51 L518.86 832.38 L518.98 833.03 L519.05 833.47 L519.09 833.69 L519.09 833.69 L518.81 834.16 L518.24 835.09 L517.39 836.48 L516.26 838.35 L514.84 840.68 L513.14 843.47 L511.16 846.73 L508.89 850.46 L506.98 853.78 L505.41 856.68 L504.2 859.17 L503.34 861.25 L502.83 862.91 L502.68 864.16 L502.88 865 L503.42 865.43 L503.87 865.63 L504.22 865.61 L504.47 865.35 L504.63 864.87 L504.68 864.17 L504.64 863.23 L504.49 862.07 L504.25 860.68 L503.97 859.37 L503.63 858.13 L503.25 856.97 L502.83 855.88 L502.35 854.87 L501.84 853.93Z" fill="none" stroke="#1a1a1a" stroke-width="2.8" stroke-linecap="round" stroke-linejoin="round"/><path d="M501.27 853.07 L500.66 852.29 L500.41 851.13 L500.52 849.61 L500.99 847.72 L501.82 845.46 L503.01 842.84 L504.55 839.85 L506.46 836.49 L508.73 832.76 L510.71 829.5 L512.41 826.7 L513.83 824.37 L514.96 822.51 L515.81 821.11 L516.38 820.18 L516.66 819.72 L516.66 819.72 L516.7 819.93 L516.78 820.37 L516.89 821.03 L517.04 821.9 L517.23 822.99 L517.46 824.3 L517.72 825.83 L518.03 827.58 L518.29 829.1 L518.52 830.41 L518.71 831.51 L518.86 832.38 L518.98 833.03 L519.05 833.47 L519.09 833.69 L519.09 833.69 L518.81 834.16 L518.24 835.09 L517.39 836.48 L516.26 838.35 L514.84 840.68 L513.14 843.47 L511.16 846.73 L508.89 850.46 L506.98 853.78 L505.41 856.68 L504.2 859.17 L503.34 861.25 L502.83 862.91 L502.68 864.16 L502.88 865 L503.42 865.43 L503.87 865.63 L504.22 865.61 L504.47 865.35 L504.63 864.87 L504.68 864.17 L504.64 863.23 L504.49 862.07 L504.25 860.68 L503.97 859.37 L503.63 858.13 L503.25 856.97 L502.83 855.88 L502.35 854.87 L501.84 853.93Z" fill="none" stroke="#fff" stroke-width="1.3" stroke-linecap="round" stroke-linejoin="round"/>
<path d="M555.32 886.86 L556.28 887.06 L557.4 886.76 L558.68 885.97 L560.13 884.7 L561.74 882.93 L563.52 880.67 L565.46 877.92 L567.56 874.69 L569.83 870.96 L571.81 867.7 L573.51 864.9 L574.93 862.57 L576.06 860.71 L576.91 859.31 L577.48 858.38 L577.76 857.91 L577.76 857.91 L577.91 857.77 L578.2 857.49 L578.63 857.06 L579.22 856.49 L579.94 855.77 L580.81 854.92 L581.83 853.92 L582.99 852.78 L584.01 851.78 L584.88 850.92 L585.61 850.21 L586.19 849.64 L586.63 849.21 L586.92 848.93 L587.06 848.78 L587.06 848.78 L586.78 849.25 L586.21 850.18 L585.36 851.58 L584.23 853.44 L582.81 855.77 L581.11 858.57 L579.13 861.83 L576.86 865.56 L574.73 868.82 L572.73 871.63 L570.87 873.97 L569.13 875.86 L567.54 877.28 L566.07 878.24 L564.75 878.74 L563.55 878.79 L562.39 878.94 L561.26 879.19 L560.17 879.56 L559.11 880.03 L558.08 880.61 L557.09 881.31 L556.13 882.1 L555.21 883.01 L554.52 883.83 L554.07 884.56 L553.85 885.2 L553.86 885.75 L554.12 886.21 L554.6 886.58Z" fill="none" stroke="#1a1a1a" stroke-width="2.8" stroke-linecap="round" stroke-linejoin="round"/><path d="M555.32 886.86 L556.28 887.06 L557.4 886.76 L558.68 885.97 L560.13 884.7 L561.74 882.93 L563.52 880.67 L565.46 877.92 L567.56 874.69 L569.83 870.96 L571.81 867.7 L573.51 864.9 L574.93 862.57 L576.06 860.71 L576.91 859.31 L577.48 858.38 L577.76 857.91 L577.76 857.91 L577.91 857.77 L578.2 857.49 L578.63 857.06 L579.22 856.49 L579.94 855.77 L580.81 854.92 L581.83 853.92 L582.99 852.78 L584.01 851.78 L584.88 850.92 L585.61 850.21 L586.19 849.64 L586.63 849.21 L586.92 848.93 L587.06 848.78 L587.06 848.78 L586.78 849.25 L586.21 850.18 L585.36 851.58 L584.23 853.44 L582.81 855.77 L581.11 858.57 L579.13 861.83 L576.86 865.56 L574.73 868.82 L572.73 871.63 L570.87 873.97 L569.13 875.86 L567.54 877.28 L566.07 878.24 L564.75 878.74 L563.55 878.79 L562.39 878.94 L561.26 879.19 L560.17 879.56 L559.11 880.03 L558.08 880.61 L557.09 881.31 L556.13 882.1 L555.21 883.01 L554.52 883.83 L554.07 884.56 L553.85 885.2 L553.86 885.75 L554.12 886.21 L554.6 886.58Z" fill="none" stroke="#fff" stroke-width="1.3" stroke-linecap="round" stroke-linejoin="round"/>
<path d="M512.2 835.92 L511.9 834.64 L511.93 833.05 L512.28 831.15 L512.94 828.95 L513.93 826.45 L515.24 823.64 L516.86 820.52 L518.81 817.1 L521.08 813.37 L523.06 810.11 L524.76 807.32 L526.18 804.99 L527.31 803.12 L528.16 801.73 L528.73 800.8 L529.01 800.33 L529.01 800.33 L528.87 800.47 L528.57 800.76 L528.14 801.19 L527.56 801.76 L526.83 802.47 L525.96 803.32 L524.94 804.32 L523.78 805.46 L522.76 806.46 L521.89 807.32 L521.16 808.03 L520.58 808.6 L520.15 809.03 L519.86 809.32 L519.71 809.46 L519.71 809.46 L519.43 809.93 L518.86 810.86 L518.01 812.25 L516.88 814.12 L515.46 816.45 L513.76 819.24 L511.78 822.5 L509.51 826.23 L507.59 829.62 L506.03 832.68 L504.81 835.4 L503.94 837.79 L503.42 839.85 L503.26 841.56 L503.44 842.95 L503.97 844 L504.55 844.8 L505.18 845.36 L505.86 845.68 L506.59 845.75 L507.37 845.58 L508.19 845.16 L509.07 844.5 L509.99 843.59 L510.76 842.63 L511.38 841.63 L511.85 840.58 L512.16 839.49 L512.33 838.35 L512.34 837.16Z" fill="none" stroke="#1a1a1a" stroke-width="2.8" stroke-linecap="round" stroke-linejoin="round"/><path d="M512.2 835.92 L511.9 834.64 L511.93 833.05 L512.28 831.15 L512.94 828.95 L513.93 826.45 L515.24 823.64 L516.86 820.52 L518.81 817.1 L521.08 813.37 L523.06 810.11 L524.76 807.32 L526.18 804.99 L527.31 803.12 L528.16 801.73 L528.73 800.8 L529.01 800.33 L529.01 800.33 L528.87 800.47 L528.57 800.76 L528.14 801.19 L527.56 801.76 L526.83 802.47 L525.96 803.32 L524.94 804.32 L523.78 805.46 L522.76 806.46 L521.89 807.32 L521.16 808.03 L520.58 808.6 L520.15 809.03 L519.86 809.32 L519.71 809.46 L519.71 809.46 L519.43 809.93 L518.86 810.86 L518.01 812.25 L516.88 814.12 L515.46 816.45 L513.76 819.24 L511.78 822.5 L509.51 826.23 L507.59 829.62 L506.03 832.68 L504.81 835.4 L503.94 837.79 L503.42 839.85 L503.26 841.56 L503.44 842.95 L503.97 844 L504.55 844.8 L505.18 845.36 L505.86 845.68 L506.59 845.75 L507.37 845.58 L508.19 845.16 L509.07 844.5 L509.99 843.59 L510.76 842.63 L511.38 841.63 L511.85 840.58 L512.16 839.49 L512.33 838.35 L512.34 837.16Z" fill="none" stroke="#fff" stroke-width="1.3" stroke-linecap="round" stroke-linejoin="round"/>
<path d="M566.25 869.71 L567.52 869.41 L568.92 868.68 L570.44 867.52 L572.09 865.93 L573.86 863.91 L575.75 861.47 L577.77 858.6 L579.91 855.3 L582.18 851.57 L584.16 848.31 L585.86 845.52 L587.28 843.19 L588.41 841.32 L589.26 839.93 L589.83 838.99 L590.11 838.53 L590.11 838.53 L590.07 838.31 L590 837.87 L589.88 837.22 L589.73 836.34 L589.54 835.25 L589.31 833.94 L589.05 832.41 L588.74 830.67 L588.48 829.14 L588.25 827.83 L588.06 826.74 L587.91 825.86 L587.8 825.21 L587.72 824.77 L587.68 824.55 L587.68 824.55 L587.4 825.02 L586.83 825.95 L585.98 827.35 L584.85 829.21 L583.43 831.54 L581.73 834.34 L579.75 837.6 L577.48 841.33 L575.35 844.67 L573.34 847.63 L571.47 850.21 L569.73 852.4 L568.13 854.22 L566.65 855.64 L565.31 856.69 L564.1 857.35 L563.07 858.1 L562.22 858.95 L561.55 859.88 L561.07 860.91 L560.77 862.02 L560.65 863.23 L560.71 864.53 L560.95 865.92 L561.32 867.09 L561.82 868.06 L562.44 868.81 L563.2 869.36 L564.09 869.69 L565.1 869.81Z" fill="none" stroke="#1a1a1a" stroke-width="2.8" stroke-linecap="round" stroke-linejoin="round"/><path d="M566.25 869.71 L567.52 869.41 L568.92 868.68 L570.44 867.52 L572.09 865.93 L573.86 863.91 L575.75 861.47 L577.77 858.6 L579.91 855.3 L582.18 851.57 L584.16 848.31 L585.86 845.52 L587.28 843.19 L588.41 841.32 L589.26 839.93 L589.83 838.99 L590.11 838.53 L590.11 838.53 L590.07 838.31 L590 837.87 L589.88 837.22 L589.73 836.34 L589.54 835.25 L589.31 833.94 L589.05 832.41 L588.74 830.67 L588.48 829.14 L588.25 827.83 L588.06 826.74 L587.91 825.86 L587.8 825.21 L587.72 824.77 L587.68 824.55 L587.68 824.55 L587.4 825.02 L586.83 825.95 L585.98 827.35 L584.85 829.21 L583.43 831.54 L581.73 834.34 L579.75 837.6 L577.48 841.33 L575.35 844.67 L573.34 847.63 L571.47 850.21 L569.73 852.4 L568.13 854.22 L566.65 855.64 L565.31 856.69 L564.1 857.35 L563.07 858.1 L562.22 858.95 L561.55 859.88 L561.07 860.91 L560.77 862.02 L560.65 863.23 L560.71 864.53 L560.95 865.92 L561.32 867.09 L561.82 868.06 L562.44 868.81 L563.2 869.36 L564.09 869.69 L565.1 869.81Z" fill="none" stroke="#fff" stroke-width="1.3" stroke-linecap="round" stroke-linejoin="round"/>
<path d="M535.75 833.69 L536.14 832.34 L536.77 830.7 L537.62 828.76 L538.72 826.52 L540.05 823.98 L541.61 821.14 L543.41 818.01 L545.44 814.58 L547.71 810.85 L549.69 807.59 L551.39 804.8 L552.81 802.47 L553.94 800.6 L554.79 799.21 L555.36 798.27 L555.64 797.81 L555.64 797.81 L555.4 797.79 L554.91 797.76 L554.18 797.71 L553.2 797.64 L551.99 797.56 L550.53 797.46 L548.82 797.34 L546.87 797.21 L545.17 797.1 L543.71 797 L542.49 796.91 L541.52 796.85 L540.79 796.8 L540.3 796.76 L540.06 796.75 L540.06 796.75 L539.77 797.21 L539.21 798.14 L538.36 799.54 L537.22 801.41 L535.81 803.74 L534.11 806.53 L532.12 809.79 L529.86 813.52 L527.87 816.95 L526.18 820.09 L524.76 822.94 L523.64 825.49 L522.79 827.74 L522.23 829.71 L521.96 831.38 L521.97 832.75 L522.17 833.97 L522.57 835.03 L523.15 835.93 L523.93 836.67 L524.9 837.25 L526.07 837.67 L527.42 837.94 L528.97 838.04 L530.37 837.96 L531.63 837.71 L532.75 837.27 L533.72 836.65 L534.54 835.84 L535.22 834.86Z" fill="none" stroke="#1a1a1a" stroke-width="2.8" stroke-linecap="round" stroke-linejoin="round"/><path d="M535.75 833.69 L536.14 832.34 L536.77 830.7 L537.62 828.76 L538.72 826.52 L540.05 823.98 L541.61 821.14 L543.41 818.01 L545.44 814.58 L547.71 810.85 L549.69 807.59 L551.39 804.8 L552.81 802.47 L553.94 800.6 L554.79 799.21 L555.36 798.27 L555.64 797.81 L555.64 797.81 L555.4 797.79 L554.91 797.76 L554.18 797.71 L553.2 797.64 L551.99 797.56 L550.53 797.46 L548.82 797.34 L546.87 797.21 L545.17 797.1 L543.71 797 L542.49 796.91 L541.52 796.85 L540.79 796.8 L540.3 796.76 L540.06 796.75 L540.06 796.75 L539.77 797.21 L539.21 798.14 L538.36 799.54 L537.22 801.41 L535.81 803.74 L534.11 806.53 L532.12 809.79 L529.86 813.52 L527.87 816.95 L526.18 820.09 L524.76 822.94 L523.64 825.49 L522.79 827.74 L522.23 829.71 L521.96 831.38 L521.97 832.75 L522.17 833.97 L522.57 835.03 L523.15 835.93 L523.93 836.67 L524.9 837.25 L526.07 837.67 L527.42 837.94 L528.97 838.04 L530.37 837.96 L531.63 837.71 L532.75 837.27 L533.72 836.65 L534.54 835.84 L535.22 834.86Z" fill="none" stroke="#fff" stroke-width="1.3" stroke-linecap="round" stroke-linejoin="round"/>
<path d="M558.14 847.69 L559.18 846.75 L560.37 845.46 L561.72 843.82 L563.22 841.83 L564.87 839.5 L566.67 836.81 L568.63 833.78 L570.75 830.4 L573.01 826.68 L575 823.41 L576.7 820.62 L578.11 818.29 L579.25 816.43 L580.1 815.03 L580.66 814.1 L580.95 813.63 L580.95 813.63 L580.75 813.47 L580.35 813.13 L579.75 812.63 L578.96 811.97 L577.96 811.14 L576.77 810.14 L575.38 808.98 L573.78 807.65 L572.39 806.49 L571.2 805.49 L570.2 804.66 L569.41 804 L568.81 803.5 L568.41 803.17 L568.21 803 L568.21 803 L567.93 803.47 L567.36 804.4 L566.51 805.8 L565.38 807.66 L563.96 809.99 L562.26 812.78 L560.28 816.04 L558.01 819.77 L555.94 823.18 L554.06 826.28 L552.38 829.07 L550.89 831.54 L549.59 833.7 L548.49 835.54 L547.59 837.07 L546.87 838.28 L546.41 839.48 L546.19 840.65 L546.22 841.81 L546.5 842.95 L547.02 844.06 L547.79 845.16 L548.81 846.23 L550.08 847.29 L551.32 848.1 L552.52 848.65 L553.7 848.96 L554.86 849.02 L555.98 848.82 L557.07 848.38Z" fill="none" stroke="#1a1a1a" stroke-width="2.8" stroke-linecap="round" stroke-linejoin="round"/><path d="M558.14 847.69 L559.18 846.75 L560.37 845.46 L561.72 843.82 L563.22 841.83 L564.87 839.5 L566.67 836.81 L568.63 833.78 L570.75 830.4 L573.01 826.68 L575 823.41 L576.7 820.62 L578.11 818.29 L579.25 816.43 L580.1 815.03 L580.66 814.1 L580.95 813.63 L580.95 813.63 L580.75 813.47 L580.35 813.13 L579.75 812.63 L578.96 811.97 L577.96 811.14 L576.77 810.14 L575.38 808.98 L573.78 807.65 L572.39 806.49 L571.2 805.49 L570.2 804.66 L569.41 804 L568.81 803.5 L568.41 803.17 L568.21 803 L568.21 803 L567.93 803.47 L567.36 804.4 L566.51 805.8 L565.38 807.66 L563.96 809.99 L562.26 812.78 L560.28 816.04 L558.01 819.77 L555.94 823.18 L554.06 826.28 L552.38 829.07 L550.89 831.54 L549.59 833.7 L548.49 835.54 L547.59 837.07 L546.87 838.28 L546.41 839.48 L546.19 840.65 L546.22 841.81 L546.5 842.95 L547.02 844.06 L547.79 845.16 L548.81 846.23 L550.08 847.29 L551.32 848.1 L552.52 848.65 L553.7 848.96 L554.86 849.02 L555.98 848.82 L557.07 848.38Z" fill="none" stroke="#fff" stroke-width="1.3" stroke-linecap="round" stroke-linejoin="round"/>
<path d="M507.4 847.97 L506.36 849.95 L505.58 852.05 L505.05 854.26 L504.8 856.56 L504.81 858.93 L505.09 861.34 L505.63 863.76 L506.43 866.18 L507.49 868.58 L508.78 870.92 L510.31 873.19 L512.05 875.36 L513.99 877.42 L516.11 879.34 L518.38 881.11 L520.8 882.71 L523.32 884.12 L525.94 885.33 L528.62 886.32 L531.34 887.1 L534.07 887.64 L536.79 887.95 L539.47 888.03 L542.08 887.86 L544.6 887.46 L547 886.83 L549.26 885.97 L551.37 884.89 L553.29 883.6 L555.02 882.12 L556.53 880.46 L557.8 878.63 L558.84 876.65 L559.62 874.55 L560.15 872.34 L560.4 870.04 L560.39 867.67 L560.11 865.26 L559.57 862.84 L558.77 860.42 L557.71 858.02 L556.42 855.68 L554.89 853.41 L553.15 851.24 L551.21 849.18 L549.09 847.26 L546.82 845.49 L544.4 843.89 L541.88 842.48 L539.26 841.27 L536.58 840.28 L533.86 839.5 L531.13 838.96 L528.41 838.65 L525.73 838.57 L523.12 838.74 L520.6 839.14 L518.2 839.77 L515.94 840.63 L513.83 841.71 L511.91 843 L510.18 844.48 L508.67 846.14Z" fill="none" stroke="#1a1a1a" stroke-width="2.8" stroke-linecap="round" stroke-linejoin="round"/><path d="M507.4 847.97 L506.36 849.95 L505.58 852.05 L505.05 854.26 L504.8 856.56 L504.81 858.93 L505.09 861.34 L505.63 863.76 L506.43 866.18 L507.49 868.58 L508.78 870.92 L510.31 873.19 L512.05 875.36 L513.99 877.42 L516.11 879.34 L518.38 881.11 L520.8 882.71 L523.32 884.12 L525.94 885.33 L528.62 886.32 L531.34 887.1 L534.07 887.64 L536.79 887.95 L539.47 888.03 L542.08 887.86 L544.6 887.46 L547 886.83 L549.26 885.97 L551.37 884.89 L553.29 883.6 L555.02 882.12 L556.53 880.46 L557.8 878.63 L558.84 876.65 L559.62 874.55 L560.15 872.34 L560.4 870.04 L560.39 867.67 L560.11 865.26 L559.57 862.84 L558.77 860.42 L557.71 858.02 L556.42 855.68 L554.89 853.41 L553.15 851.24 L551.21 849.18 L549.09 847.26 L546.82 845.49 L544.4 843.89 L541.88 842.48 L539.26 841.27 L536.58 840.28 L533.86 839.5 L531.13 838.96 L528.41 838.65 L525.73 838.57 L523.12 838.74 L520.6 839.14 L518.2 839.77 L515.94 840.63 L513.83 841.71 L511.91 843 L510.18 844.48 L508.67 846.14Z" fill="none" stroke="#fff" stroke-width="1.3" stroke-linecap="round" stroke-linejoin="round"/>
<path d="M536.17 825.68 L535.6 826.89 L535.27 828.23 L535.21 829.67 L535.4 831.2 L535.85 832.77 L536.54 834.37 L537.47 835.97 L538.62 837.53 L539.96 839.04 L541.48 840.47 L543.16 841.8 L544.95 842.99 L546.84 844.04 L548.78 844.91 L550.75 845.61 L552.71 846.11 L554.63 846.4 L556.48 846.49 L558.22 846.37 L559.82 846.05 L561.26 845.52 L562.51 844.79 L563.55 843.89 L564.36 842.82 L577.88 820.61 L578.45 819.4 L578.77 818.06 L578.84 816.61 L578.64 815.09 L578.2 813.52 L577.51 811.92 L576.58 810.32 L575.43 808.75 L574.08 807.24 L572.56 805.81 L570.89 804.49 L569.09 803.3 L567.21 802.25 L565.26 801.37 L563.29 800.68 L561.33 800.18 L559.41 799.88 L557.57 799.79 L555.83 799.91 L554.23 800.24 L552.79 800.77 L551.54 801.49 L550.49 802.4 L549.68 803.46Z" fill="#fff" stroke="#222" stroke-width="0.9"/><ellipse cx="563.78" cy="812.04" rx="16.5" ry="10.23" transform="rotate(-148.69 563.78 812.04)" fill="none" stroke="#222" stroke-width="0.9"/><path d="M542.22 817.65 L541.68 818.79 L541.38 820.05 L541.32 821.41 L541.5 822.84 L541.92 824.32 L542.57 825.82 L543.44 827.32 L544.52 828.79 L545.78 830.21 L547.21 831.55 L548.78 832.8 L550.47 833.92 L552.24 834.9 L554.07 835.72 L555.92 836.37 L557.76 836.84 L559.56 837.12 L561.3 837.21 L562.93 837.1 L564.44 836.79 L565.79 836.29 L566.96 835.61 L567.94 834.76 L568.71 833.76" fill="none" stroke="#222" stroke-width="0.9"/><path d="M548.51 812.12 L548.06 813.07 L547.81 814.13 L547.76 815.27 L547.91 816.46 L548.26 817.7 L548.81 818.96 L549.54 820.22 L550.44 821.46 L551.5 822.65 L552.7 823.78 L554.02 824.82 L555.43 825.76 L556.92 826.58 L558.45 827.27 L560 827.82 L561.55 828.21 L563.06 828.45 L564.51 828.52 L565.88 828.42 L567.15 828.17 L568.28 827.75 L569.27 827.18 L570.09 826.47 L570.73 825.63" fill="none" stroke="#222" stroke-width="0.9"/>
<ellipse cx="564.3" cy="811.18" rx="5" ry="3.5" transform="rotate(-148.69 564.3 811.18)" fill="#fff" stroke="#222" stroke-width="1"/>
<path d="M795.49 810.64 L795.86 809.11 L795.73 807.56 L795.13 806.11 L794.12 804.93 L792.79 804.12 L748.62 785.97 L747.1 785.61 L745.55 785.74 L744.11 786.35 L742.93 787.37 L742.11 788.71 L737.46 800.04 L737.1 801.56 L737.22 803.12 L737.82 804.56 L738.83 805.74 L740.16 806.55 L784.34 824.7 L785.85 825.06 L787.41 824.93 L788.84 824.32 L790.03 823.3 L790.84 821.97Z" fill="none" stroke="#1a1a1a" stroke-width="2.8" stroke-linecap="round" stroke-linejoin="round"/><path d="M795.49 810.64 L795.86 809.11 L795.73 807.56 L795.13 806.11 L794.12 804.93 L792.79 804.12 L748.62 785.97 L747.1 785.61 L745.55 785.74 L744.11 786.35 L742.93 787.37 L742.11 788.71 L737.46 800.04 L737.1 801.56 L737.22 803.12 L737.82 804.56 L738.83 805.74 L740.16 806.55 L784.34 824.7 L785.85 825.06 L787.41 824.93 L788.84 824.32 L790.03 823.3 L790.84 821.97Z" fill="none" stroke="#fff" stroke-width="1.3" stroke-linecap="round" stroke-linejoin="round"/>
<path d="M801.76 792.72 L801.93 791.43 L801.62 790.09 L800.89 788.82 L799.78 787.75 L798.42 786.97 L754.25 768.83 L752.76 768.43 L751.3 768.45 L750 768.88 L749 769.69 L748.38 770.79 L745.28 780.23 L745.11 781.51 L745.41 782.85 L746.15 784.12 L747.26 785.2 L748.62 785.97 L792.79 804.12 L794.28 804.52 L795.74 804.5 L797.04 804.06 L798.04 803.26 L798.66 802.16Z" fill="none" stroke="#1a1a1a" stroke-width="2.8" stroke-linecap="round" stroke-linejoin="round"/><path d="M801.76 792.72 L801.93 791.43 L801.62 790.09 L800.89 788.82 L799.78 787.75 L798.42 786.97 L754.25 768.83 L752.76 768.43 L751.3 768.45 L750 768.88 L749 769.69 L748.38 770.79 L745.28 780.23 L745.11 781.51 L745.41 782.85 L746.15 784.12 L747.26 785.2 L748.62 785.97 L792.79 804.12 L794.28 804.52 L795.74 804.5 L797.04 804.06 L798.04 803.26 L798.66 802.16Z" fill="none" stroke="#fff" stroke-width="1.3" stroke-linecap="round" stroke-linejoin="round"/>
<path d="M787.13 830.22 L787.46 829.01 L787.32 827.73 L786.7 826.51 L785.67 825.46 L784.34 824.7 L740.16 806.55 L738.65 806.15 L737.11 806.13 L735.69 806.52 L734.53 807.26 L733.75 808.29 L729.32 817.18 L728.98 818.4 L729.13 819.68 L729.75 820.9 L730.78 821.94 L732.11 822.71 L776.29 840.85 L777.8 841.26 L779.34 841.27 L780.76 840.89 L781.91 840.14 L782.7 839.11Z" fill="none" stroke="#1a1a1a" stroke-width="2.8" stroke-linecap="round" stroke-linejoin="round"/><path d="M787.13 830.22 L787.46 829.01 L787.32 827.73 L786.7 826.51 L785.67 825.46 L784.34 824.7 L740.16 806.55 L738.65 806.15 L737.11 806.13 L735.69 806.52 L734.53 807.26 L733.75 808.29 L729.32 817.18 L728.98 818.4 L729.13 819.68 L729.75 820.9 L730.78 821.94 L732.11 822.71 L776.29 840.85 L777.8 841.26 L779.34 841.27 L780.76 840.89 L781.91 840.14 L782.7 839.11Z" fill="none" stroke="#fff" stroke-width="1.3" stroke-linecap="round" stroke-linejoin="round"/>
<path d="M803.53 783.31 L803.35 782.72 L802.74 782 L801.75 781.23 L800.49 780.47 L799.08 779.81 L754.9 761.66 L753.47 761.16 L752.17 760.86 L751.12 760.8 L750.42 760.98 L750.15 761.38 L749.79 765.33 L749.97 765.92 L750.58 766.63 L751.57 767.41 L752.83 768.16 L754.25 768.83 L798.42 786.97 L799.85 787.48 L801.16 787.78 L802.21 787.84 L802.9 787.66 L803.17 787.25Z" fill="none" stroke="#1a1a1a" stroke-width="2.8" stroke-linecap="round" stroke-linejoin="round"/><path d="M803.53 783.31 L803.35 782.72 L802.74 782 L801.75 781.23 L800.49 780.47 L799.08 779.81 L754.9 761.66 L753.47 761.16 L752.17 760.86 L751.12 760.8 L750.42 760.98 L750.15 761.38 L749.79 765.33 L749.97 765.92 L750.58 766.63 L751.57 767.41 L752.83 768.16 L754.25 768.83 L798.42 786.97 L799.85 787.48 L801.16 787.78 L802.21 787.84 L802.9 787.66 L803.17 787.25Z" fill="none" stroke="#fff" stroke-width="1.3" stroke-linecap="round" stroke-linejoin="round"/>
<path d="M779.86 843.99 L779.96 843.51 L779.59 842.9 L778.8 842.2 L777.66 841.5 L776.29 840.85 L732.11 822.71 L730.64 822.18 L729.21 821.83 L727.97 821.69 L727.03 821.77 L726.48 822.06 L723.97 825.12 L723.87 825.6 L724.24 826.22 L725.03 826.91 L726.17 827.62 L727.54 828.26 L771.72 846.41 L773.19 846.93 L774.62 847.28 L775.86 847.42 L776.8 847.34 L777.35 847.05Z" fill="none" stroke="#1a1a1a" stroke-width="2.8" stroke-linecap="round" stroke-linejoin="round"/><path d="M779.86 843.99 L779.96 843.51 L779.59 842.9 L778.8 842.2 L777.66 841.5 L776.29 840.85 L732.11 822.71 L730.64 822.18 L729.21 821.83 L727.97 821.69 L727.03 821.77 L726.48 822.06 L723.97 825.12 L723.87 825.6 L724.24 826.22 L725.03 826.91 L726.17 827.62 L727.54 828.26 L771.72 846.41 L773.19 846.93 L774.62 847.28 L775.86 847.42 L776.8 847.34 L777.35 847.05Z" fill="none" stroke="#fff" stroke-width="1.3" stroke-linecap="round" stroke-linejoin="round"/>
<path d="M731.42 806.07 L731.67 806.04 L732 805.79 L732.42 805.33 L732.91 804.65 L733.46 803.78 L734.08 802.73 L734.73 801.51 L735.42 800.15 L736.14 798.67 L736.86 797.09 L737.58 795.44 L738.29 793.76 L738.97 792.06 L739.62 790.38 L740.21 788.75 L740.74 787.2 L741.21 785.74 L741.6 784.41 L741.9 783.23 L742.12 782.22 L742.25 781.4 L742.28 780.78 L742.22 780.36 L742.06 780.17 L710.84 767.34 L710.59 767.37 L710.25 767.62 L709.84 768.08 L709.35 768.76 L708.79 769.63 L708.18 770.68 L707.52 771.9 L706.83 773.27 L706.12 774.75 L705.39 776.32 L704.67 777.97 L703.96 779.65 L703.28 781.35 L702.64 783.03 L702.04 784.66 L701.51 786.22 L701.04 787.67 L700.66 789 L700.35 790.18 L700.13 791.19 L700.01 792.01 L699.98 792.64 L700.04 793.05 L700.2 793.24Z" fill="#fff" stroke="#222" stroke-width="0.9"/><ellipse cx="705.52" cy="780.29" rx="14" ry="1.68" transform="rotate(112.33 705.52 780.29)" fill="none" stroke="#222" stroke-width="0.9"/><ellipse cx="742.5" cy="795.5" rx="13" ry="4.94" transform="rotate(112.33 742.5 795.5)" fill="none" stroke="#222" stroke-width="2.6" stroke-dasharray="2 1.2"/><ellipse cx="742.5" cy="795.5" rx="8" ry="3.6" transform="rotate(112.33 742.5 795.5)" fill="none" stroke="#444" stroke-width="1.2"/>
<path d="M800.14 786.01 L799.59 786.3 L798.65 786.38 L797.41 786.24 L795.98 785.89 L794.51 785.37 L750.33 767.22 L748.96 766.57 L747.82 765.87 L747.03 765.17 L746.66 764.56 L746.76 764.08 L749.27 761.02 L749.82 760.73 L750.75 760.65 L752 760.79 L753.43 761.14 L754.9 761.66 L799.08 779.81 L800.45 780.46 L801.59 781.16 L802.38 781.85 L802.74 782.47 L802.65 782.95Z" fill="none" stroke="#1a1a1a" stroke-width="2.8" stroke-linecap="round" stroke-linejoin="round"/><path d="M800.14 786.01 L799.59 786.3 L798.65 786.38 L797.41 786.24 L795.98 785.89 L794.51 785.37 L750.33 767.22 L748.96 766.57 L747.82 765.87 L747.03 765.17 L746.66 764.56 L746.76 764.08 L749.27 761.02 L749.82 760.73 L750.75 760.65 L752 760.79 L753.43 761.14 L754.9 761.66 L799.08 779.81 L800.45 780.46 L801.59 781.16 L802.38 781.85 L802.74 782.47 L802.65 782.95Z" fill="none" stroke="#fff" stroke-width="1.3" stroke-linecap="round" stroke-linejoin="round"/>
<path d="M776.47 846.69 L776.2 847.09 L775.5 847.27 L774.45 847.21 L773.15 846.91 L771.72 846.41 L727.54 828.26 L726.13 827.6 L724.86 826.84 L723.88 826.07 L723.27 825.35 L723.09 824.76 L723.45 820.82 L723.72 820.41 L724.41 820.23 L725.46 820.29 L726.77 820.59 L728.2 821.1 L772.37 839.25 L773.79 839.91 L775.05 840.66 L776.04 841.44 L776.65 842.16 L776.83 842.75Z" fill="none" stroke="#1a1a1a" stroke-width="2.8" stroke-linecap="round" stroke-linejoin="round"/><path d="M776.47 846.69 L776.2 847.09 L775.5 847.27 L774.45 847.21 L773.15 846.91 L771.72 846.41 L727.54 828.26 L726.13 827.6 L724.86 826.84 L723.88 826.07 L723.27 825.35 L723.09 824.76 L723.45 820.82 L723.72 820.41 L724.41 820.23 L725.46 820.29 L726.77 820.59 L728.2 821.1 L772.37 839.25 L773.79 839.91 L775.05 840.66 L776.04 841.44 L776.65 842.16 L776.83 842.75Z" fill="none" stroke="#fff" stroke-width="1.3" stroke-linecap="round" stroke-linejoin="round"/>
<path d="M792.87 799.78 L792.09 800.81 L790.93 801.55 L789.51 801.94 L787.97 801.92 L786.46 801.52 L742.28 783.37 L740.95 782.61 L739.92 781.57 L739.3 780.34 L739.16 779.06 L739.49 777.85 L743.92 768.96 L744.7 767.93 L745.86 767.18 L747.28 766.8 L748.82 766.81 L750.33 767.22 L794.51 785.37 L795.84 786.13 L796.87 787.17 L797.49 788.39 L797.63 789.67 L797.3 790.89Z" fill="none" stroke="#1a1a1a" stroke-width="2.8" stroke-linecap="round" stroke-linejoin="round"/><path d="M792.87 799.78 L792.09 800.81 L790.93 801.55 L789.51 801.94 L787.97 801.92 L786.46 801.52 L742.28 783.37 L740.95 782.61 L739.92 781.57 L739.3 780.34 L739.16 779.06 L739.49 777.85 L743.92 768.96 L744.7 767.93 L745.86 767.18 L747.28 766.8 L748.82 766.81 L750.33 767.22 L794.51 785.37 L795.84 786.13 L796.87 787.17 L797.49 788.39 L797.63 789.67 L797.3 790.89Z" fill="none" stroke="#fff" stroke-width="1.3" stroke-linecap="round" stroke-linejoin="round"/>
<path d="M778.24 837.28 L777.62 838.38 L776.62 839.19 L775.32 839.62 L773.86 839.64 L772.37 839.25 L728.2 821.1 L726.84 820.32 L725.73 819.25 L725 817.98 L724.69 816.64 L724.86 815.35 L727.96 805.91 L728.58 804.81 L729.58 804.01 L730.88 803.58 L732.34 803.55 L733.83 803.95 L778 822.1 L779.36 822.87 L780.47 823.95 L781.21 825.22 L781.51 826.56 L781.34 827.84Z" fill="none" stroke="#1a1a1a" stroke-width="2.8" stroke-linecap="round" stroke-linejoin="round"/><path d="M778.24 837.28 L777.62 838.38 L776.62 839.19 L775.32 839.62 L773.86 839.64 L772.37 839.25 L728.2 821.1 L726.84 820.32 L725.73 819.25 L725 817.98 L724.69 816.64 L724.86 815.35 L727.96 805.91 L728.58 804.81 L729.58 804.01 L730.88 803.58 L732.34 803.55 L733.83 803.95 L778 822.1 L779.36 822.87 L780.47 823.95 L781.21 825.22 L781.51 826.56 L781.34 827.84Z" fill="none" stroke="#fff" stroke-width="1.3" stroke-linecap="round" stroke-linejoin="round"/>
<path d="M784.51 819.36 L783.69 820.7 L782.51 821.72 L781.07 822.33 L779.52 822.46 L778 822.1 L733.83 803.95 L732.5 803.14 L731.49 801.96 L730.89 800.51 L730.76 798.96 L731.13 797.43 L735.78 786.1 L736.59 784.77 L737.78 783.75 L739.21 783.14 L740.77 783.01 L742.28 783.37 L786.46 801.52 L787.79 802.33 L788.8 803.51 L789.4 804.95 L789.52 806.51 L789.16 808.03Z" fill="none" stroke="#1a1a1a" stroke-width="2.8" stroke-linecap="round" stroke-linejoin="round"/><path d="M784.51 819.36 L783.69 820.7 L782.51 821.72 L781.07 822.33 L779.52 822.46 L778 822.1 L733.83 803.95 L732.5 803.14 L731.49 801.96 L730.89 800.51 L730.76 798.96 L731.13 797.43 L735.78 786.1 L736.59 784.77 L737.78 783.75 L739.21 783.14 L740.77 783.01 L742.28 783.37 L786.46 801.52 L787.79 802.33 L788.8 803.51 L789.4 804.95 L789.52 806.51 L789.16 808.03Z" fill="none" stroke="#fff" stroke-width="1.3" stroke-linecap="round" stroke-linejoin="round"/>
<path d="M779.36 840.9 L779.79 840.82 L780.39 840.29 L781.16 839.34 L782.08 837.96 L783.14 836.2 L784.31 834.07 L785.58 831.61 L786.92 828.87 L788.32 825.89 L789.75 822.73 L791.18 819.44 L792.59 816.06 L793.96 812.67 L795.26 809.32 L796.46 806.07 L797.56 802.97 L798.53 800.08 L799.35 797.44 L800.02 795.1 L800.51 793.1 L800.82 791.48 L800.95 790.26 L800.89 789.46 L800.64 789.1 L800.21 789.18 L799.61 789.71 L798.84 790.66 L797.92 792.04 L796.86 793.8 L795.69 795.93 L794.42 798.39 L793.08 801.13 L791.68 804.11 L790.25 807.27 L788.82 810.56 L787.41 813.94 L786.04 817.33 L784.74 820.68 L783.54 823.93 L782.44 827.03 L781.47 829.92 L780.65 832.56 L779.98 834.9 L779.49 836.9 L779.18 838.52 L779.05 839.74 L779.11 840.54Z" fill="none" stroke="#1a1a1a" stroke-width="2.8" stroke-linecap="round" stroke-linejoin="round"/><path d="M779.36 840.9 L779.79 840.82 L780.39 840.29 L781.16 839.34 L782.08 837.96 L783.14 836.2 L784.31 834.07 L785.58 831.61 L786.92 828.87 L788.32 825.89 L789.75 822.73 L791.18 819.44 L792.59 816.06 L793.96 812.67 L795.26 809.32 L796.46 806.07 L797.56 802.97 L798.53 800.08 L799.35 797.44 L800.02 795.1 L800.51 793.1 L800.82 791.48 L800.95 790.26 L800.89 789.46 L800.64 789.1 L800.21 789.18 L799.61 789.71 L798.84 790.66 L797.92 792.04 L796.86 793.8 L795.69 795.93 L794.42 798.39 L793.08 801.13 L791.68 804.11 L790.25 807.27 L788.82 810.56 L787.41 813.94 L786.04 817.33 L784.74 820.68 L783.54 823.93 L782.44 827.03 L781.47 829.92 L780.65 832.56 L779.98 834.9 L779.49 836.9 L779.18 838.52 L779.05 839.74 L779.11 840.54Z" fill="none" stroke="#fff" stroke-width="1.3" stroke-linecap="round" stroke-linejoin="round"/>
</svg>
</body></html>
